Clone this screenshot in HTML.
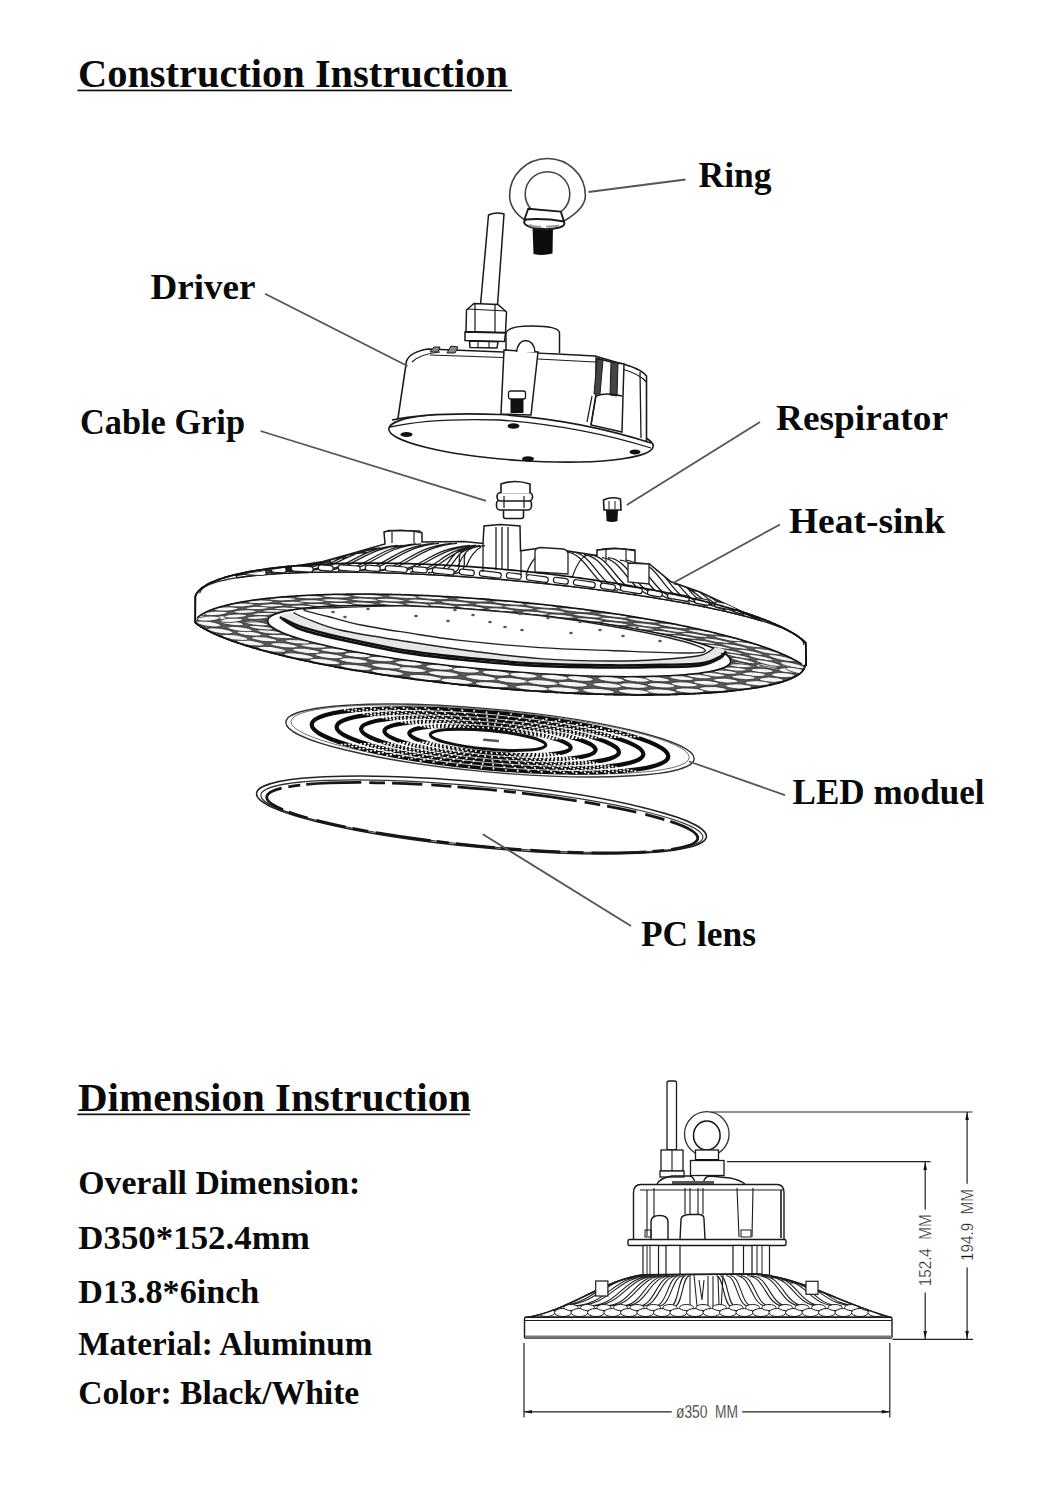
<!DOCTYPE html>
<html><head><meta charset="utf-8"><title>Construction Instruction</title>
<style>html,body{margin:0;padding:0;background:#fff;}svg{display:block;}</style>
</head><body>
<svg width="1048" height="1506" viewBox="0 0 1048 1506">
<rect width="1048" height="1506" fill="#fff"/>
<g font-family='"Liberation Serif", serif' font-weight="bold" fill="#0a0a0a">
<text x="78" y="87" font-size="40" textLength="430" lengthAdjust="spacingAndGlyphs">Construction Instruction</text>
<text x="698.5" y="187.3" font-size="35" textLength="73" lengthAdjust="spacingAndGlyphs">Ring</text>
<text x="150.5" y="298.6" font-size="35" textLength="105" lengthAdjust="spacingAndGlyphs">Driver</text>
<text x="80" y="433.5" font-size="35" textLength="165" lengthAdjust="spacingAndGlyphs">Cable Grip</text>
<text x="776" y="430.1" font-size="35" textLength="172" lengthAdjust="spacingAndGlyphs">Respirator</text>
<text x="789" y="533.1" font-size="35" textLength="156" lengthAdjust="spacingAndGlyphs">Heat-sink</text>
<text x="792.5" y="804.2" font-size="35" textLength="192" lengthAdjust="spacingAndGlyphs">LED moduel</text>
<text x="641" y="945.6" font-size="35" textLength="115" lengthAdjust="spacingAndGlyphs">PC lens</text>
<text x="78" y="1111" font-size="40" textLength="393" lengthAdjust="spacingAndGlyphs">Dimension Instruction</text>
<text x="78.3" y="1193.5" font-size="33" textLength="282" lengthAdjust="spacingAndGlyphs">Overall Dimension:</text>
<text x="78.3" y="1249" font-size="33" textLength="231.5" lengthAdjust="spacingAndGlyphs">D350*152.4mm</text>
<text x="78.3" y="1302.7" font-size="33" textLength="181" lengthAdjust="spacingAndGlyphs">D13.8*6inch</text>
<text x="78.3" y="1355" font-size="33" textLength="294" lengthAdjust="spacingAndGlyphs">Material: Aluminum</text>
<text x="78.3" y="1404" font-size="33" textLength="281" lengthAdjust="spacingAndGlyphs">Color: Black/White</text>
</g>
<rect x="77.5" y="89.6" width="434.5" height="1.7" fill="#111"/>
<rect x="77.3" y="1113.5" width="392.5" height="1.7" fill="#111"/>
<path d="M524,219.5 C512,211 509.6,203 509.6,195.5 A37.9,37 0 0 1 585.4,195.5 C585.4,204 578,213 564,221" stroke="#444" stroke-width="1.6" fill="none"/>
<circle cx="547.5" cy="194" r="22.3" stroke="#444" stroke-width="1.6" fill="none"/>
<path d="M532.5,226 L553,226 L552.5,253.5 Q543,256 533.5,254 Z" fill="#0c0c0c"/>
<ellipse cx="544.3" cy="222.8" rx="20.2" ry="6.3" transform="rotate(2 544.3 222.8)" fill="#fff" stroke="#1a1a1a" stroke-width="2"/>
<path d="M529,225 Q535,227.5 541,226.5 M546,226.5 Q553,227 559,225.5" stroke="#999" stroke-width="2.2" fill="none"/>
<path d="M528.2,208.7 L560.8,211.6 L564,221.5 Q545,218 524.4,219.5 Z" fill="#fff" stroke="#1a1a1a" stroke-width="1.9" stroke-linejoin="round"/>
<path d="M195.32,596.39 L195.53,595.8 L195.77,595.22 L196.04,594.64 L196.35,594.06 L196.7,593.49 L197.07,592.92 L197.48,592.35 L197.93,591.79 L198.4,591.23 L198.92,590.67 L199.46,590.12 L200.04,589.58 L200.65,589.04 L201.29,588.5 L201.97,587.96 L202.68,587.43 L203.42,586.91 L204.2,586.39 L205.01,585.87 L205.85,585.36 L206.72,584.85 L207.63,584.35 L208.57,583.85 L209.54,583.36 L210.54,582.87 L211.58,582.39 L212.65,581.91 L213.74,581.44 L214.88,580.97 L216.04,580.51 L217.23,580.05 L218.46,579.6 L219.72,579.15 L221,578.71 L222.32,578.27 L223.67,577.84 L225.05,577.41 L226.47,576.99 L227.91,576.58 L229.38,576.17 L230.88,575.77 L232.41,575.37 L233.97,574.98 L235.57,574.59 L237.19,574.21 L238.84,573.83 L240.51,573.46 L242.22,573.1 L243.96,572.74 L245.72,572.39 L247.51,572.05 L249.34,571.71 L251.18,571.37 L253.06,571.05 L254.96,570.73 L256.9,570.41 L258.85,570.1 L260.84,569.8 L262.85,569.51 L264.89,569.22 L266.95,568.93 L269.04,568.66 L271.16,568.39 L273.3,568.12 L275.47,567.87 L277.66,567.62 L279.87,567.37 L282.11,567.14 L284.38,566.9 L286.67,566.68 L288.98,566.46 L291.32,566.25 L293.68,566.05 L296.06,565.85 L298.46,565.66 L300.89,565.48 L303.34,565.3 L305.81,565.13 L308.31,564.96 L310.82,564.81 L313.36,564.66 L315.91,564.52 L318.49,564.38 L321.09,564.25 L323.71,564.13 L326.34,564.01 L329,563.9 L331.68,563.8 L334.37,563.71 L337.08,563.62 L339.82,563.54 L342.57,563.47 L345.33,563.4 L348.12,563.34 L350.92,563.29 L353.74,563.24 L356.57,563.21 L359.42,563.18 L362.29,563.15 L365.17,563.13 L368.07,563.12 L370.98,563.12 L373.91,563.13 L376.85,563.14 L379.8,563.15 L382.77,563.18 L385.75,563.21 L388.74,563.25 L391.75,563.3 L394.77,563.35 L397.8,563.41 L400.84,563.48 L403.9,563.55 L406.96,563.63 L410.04,563.72 L413.12,563.82 L416.22,563.92 L419.32,564.03 L422.44,564.15 L425.56,564.27 L428.69,564.4 L431.83,564.54 L434.98,564.68 L438.13,564.83 L441.3,564.99 L444.47,565.15 L447.64,565.32 L450.82,565.5 L454.01,565.69 L457.2,565.88 L460.4,566.08 L463.6,566.28 L466.81,566.49 L470.02,566.71 L473.24,566.94 L476.45,567.17 L479.68,567.41 L482.9,567.65 L486.13,567.91 L489.35,568.16 L492.58,568.43 L495.81,568.7 L499.04,568.98 L502.28,569.26 L505.51,569.55 L508.74,569.85 L511.97,570.15 L515.2,570.46 L518.43,570.77 L521.66,571.1 L524.88,571.42 L528.1,571.76 L531.32,572.1 L534.54,572.44 L537.75,572.8 L540.96,573.15 L544.17,573.52 L547.37,573.89 L550.57,574.26 L553.76,574.65 L556.95,575.03 L560.12,575.43 L563.3,575.83 L566.47,576.23 L569.63,576.64 L572.78,577.06 L575.92,577.48 L579.06,577.9 L582.19,578.34 L585.31,578.77 L588.42,579.22 L591.52,579.67 L594.62,580.12 L597.7,580.58 L600.77,581.04 L603.83,581.51 L606.88,581.98 L609.92,582.46 L612.95,582.95 L615.96,583.43 L618.97,583.93 L621.96,584.43 L624.94,584.93 L627.9,585.44 L630.85,585.95 L633.79,586.47 L636.71,586.99 L639.62,587.51 L642.51,588.04 L645.39,588.58 L648.25,589.12 L651.09,589.66 L653.92,590.21 L656.74,590.76 L659.53,591.31 L662.31,591.87 L665.07,592.43 L667.82,593 L670.54,593.57 L673.25,594.14 L675.94,594.72 L678.61,595.3 L681.26,595.89 L683.89,596.48 L686.5,597.07 L689.1,597.66 L691.67,598.26 L694.22,598.86 L696.75,599.47 L699.25,600.08 L701.74,600.69 L704.21,601.3 L706.65,601.92 L709.07,602.54 L711.47,603.16 L713.84,603.78 L716.2,604.41 L718.53,605.04 L720.83,605.67 L723.11,606.31 L725.37,606.95 L727.6,607.58 L729.81,608.23 L732,608.87 L734.16,609.52 L736.29,610.16 L738.4,610.81 L740.48,611.46 L742.53,612.12 L744.56,612.77 L746.57,613.43 L748.54,614.08 L750.49,614.74 L752.42,615.4 L754.31,616.07 L756.18,616.73 L758.02,617.39 L759.83,618.06 L761.62,618.73 L763.37,619.39 L765.1,620.06 L766.8,620.73 L768.47,621.4 L770.11,622.07 L771.72,622.74 L773.3,623.41 L774.86,624.09 L776.38,624.76 L777.87,625.43 L779.33,626.1 L780.77,626.78 L782.17,627.45 L783.54,628.12 L784.88,628.8 L786.19,629.47 L787.47,630.14 L788.72,630.81 L789.93,631.49 L791.12,632.16 L792.27,632.83 L793.39,633.5 L794.48,634.17 L795.54,634.84 L796.57,635.51 L797.56,636.17 L798.52,636.84 L799.45,637.51 L800.35,638.17 L801.21,638.83 L802.04,639.49 L802.84,640.15 L803.61,640.81 L804.34,641.47 L805.04,642.13 L805.71,642.78 L806.2,665 L804.87,665.62 L804.81,666.14 L804.71,666.65 L804.58,667.17 L804.42,667.67 L804.22,668.18 L803.99,668.68 L803.72,669.18 L803.42,669.68 L803.09,670.17 L802.72,670.66 L802.32,671.14 L801.89,671.62 L801.42,672.1 L800.92,672.57 L800.39,673.04 L799.82,673.51 L799.22,673.97 L798.58,674.43 L797.92,674.88 L797.22,675.33 L796.48,675.78 L795.72,676.22 L794.92,676.66 L794.09,677.09 L793.22,677.52 L792.32,677.95 L791.39,678.37 L790.43,678.78 L789.44,679.2 L788.41,679.6 L787.36,680.01 L786.27,680.4 L785.14,680.8 L783.99,681.19 L782.81,681.57 L781.59,681.95 L780.34,682.32 L779.06,682.69 L777.75,683.06 L776.41,683.42 L775.04,683.77 L773.64,684.12 L772.21,684.47 L770.75,684.81 L769.25,685.14 L767.73,685.47 L766.18,685.79 L764.6,686.11 L762.99,686.43 L761.35,686.74 L759.68,687.04 L757.98,687.34 L756.25,687.63 L754.5,687.92 L752.71,688.2 L750.9,688.47 L749.06,688.74 L747.19,689.01 L745.3,689.27 L743.38,689.52 L741.43,689.77 L739.45,690.01 L737.45,690.25 L735.42,690.48 L733.37,690.7 L731.28,690.92 L729.18,691.14 L727.05,691.35 L724.89,691.55 L722.7,691.74 L720.5,691.93 L718.26,692.12 L716.01,692.3 L713.73,692.47 L711.42,692.64 L709.1,692.8 L706.74,692.95 L704.37,693.1 L701.97,693.24 L699.55,693.38 L697.11,693.51 L694.65,693.63 L692.16,693.75 L689.65,693.86 L687.13,693.97 L684.58,694.07 L682.01,694.16 L679.42,694.25 L676.81,694.33 L674.18,694.41 L671.53,694.48 L668.86,694.54 L666.17,694.6 L663.46,694.65 L660.74,694.69 L658,694.73 L655.24,694.76 L652.46,694.79 L649.66,694.8 L646.85,694.82 L644.03,694.83 L641.18,694.83 L638.32,694.82 L635.45,694.81 L632.55,694.79 L629.65,694.77 L626.73,694.74 L623.79,694.7 L620.85,694.66 L617.88,694.61 L614.91,694.55 L611.92,694.49 L608.92,694.42 L605.9,694.35 L602.88,694.27 L599.84,694.19 L596.79,694.09 L593.73,693.99 L590.66,693.89 L587.58,693.78 L584.49,693.66 L581.39,693.54 L578.28,693.41 L575.16,693.28 L572.04,693.14 L568.9,692.99 L565.76,692.84 L562.61,692.68 L559.45,692.51 L556.28,692.34 L553.11,692.16 L549.94,691.98 L546.75,691.79 L543.56,691.6 L540.37,691.4 L537.17,691.19 L533.97,690.98 L530.76,690.76 L527.55,690.54 L524.33,690.31 L521.11,690.07 L517.89,689.83 L514.67,689.59 L511.44,689.33 L508.22,689.08 L504.99,688.81 L501.76,688.54 L498.53,688.27 L495.3,687.99 L492.07,687.7 L488.84,687.41 L485.62,687.12 L482.39,686.81 L479.16,686.51 L475.94,686.19 L472.72,685.88 L469.5,685.55 L466.28,685.23 L463.07,684.89 L459.86,684.55 L456.66,684.21 L453.46,683.86 L450.26,683.51 L447.07,683.15 L443.89,682.79 L440.71,682.42 L437.53,682.05 L434.37,681.67 L431.21,681.28 L428.06,680.9 L424.91,680.5 L421.77,680.11 L418.64,679.71 L415.52,679.3 L412.41,678.89 L409.31,678.47 L406.22,678.05 L403.13,677.63 L400.06,677.2 L397,676.77 L393.95,676.33 L390.91,675.89 L387.88,675.45 L384.86,675 L381.86,674.55 L378.86,674.09 L375.88,673.63 L372.92,673.16 L369.97,672.69 L367.03,672.22 L364.1,671.74 L361.19,671.26 L358.3,670.78 L355.42,670.29 L352.56,669.8 L349.71,669.31 L346.88,668.81 L344.06,668.31 L341.26,667.8 L338.48,667.3 L335.71,666.79 L332.97,666.27 L330.24,665.75 L327.53,665.23 L324.83,664.71 L322.16,664.19 L319.51,663.66 L316.87,663.12 L314.26,662.59 L311.66,662.05 L309.09,661.51 L306.53,660.97 L304,660.43 L301.48,659.88 L298.99,659.33 L296.52,658.78 L294.08,658.22 L291.65,657.67 L289.25,657.11 L286.87,656.55 L284.51,655.98 L282.18,655.42 L279.87,654.85 L277.58,654.28 L275.32,653.71 L273.08,653.14 L270.86,652.57 L268.67,651.99 L266.51,651.42 L264.37,650.84 L262.26,650.26 L260.17,649.68 L258.11,649.1 L256.07,648.51 L254.06,647.93 L252.08,647.34 L250.12,646.76 L248.19,646.17 L246.29,645.58 L244.42,644.99 L242.57,644.4 L240.75,643.81 L238.96,643.22 L237.2,642.63 L235.46,642.03 L233.76,641.44 L232.08,640.85 L230.43,640.25 L228.82,639.66 L227.23,639.07 L225.67,638.47 L224.14,637.88 L222.64,637.28 L221.17,636.69 L219.73,636.1 L218.32,635.5 L216.94,634.91 L215.59,634.32 L214.27,633.73 L212.99,633.13 L211.73,632.54 L210.51,631.95 L209.31,631.36 L208.15,630.77 L207.02,630.18 L205.92,629.59 L204.86,629.01 L203.82,628.42 L202.82,627.84 L201.85,627.25 L200.91,626.67 L200.01,626.09 L199.14,625.51 L198.29,624.93 L197.49,624.35 L196.71,623.78 L195.97,623.2 L195.26,622.63 L195.2,619 Z" fill="#fff" stroke="#111" stroke-width="1.7"/>
<path d="M199.81,593.21 L199.86,592.8 L199.94,592.39 L200.06,591.99 L200.21,591.59 L200.4,591.19 L200.61,590.8 L200.87,590.4 L201.15,590.02 L201.46,589.63 L201.81,589.25 L202.2,588.87 L202.61,588.49 L203.06,588.12 L203.54,587.75 L204.05,587.39 L204.6,587.03 L205.18,586.67 L205.79,586.31 L206.43,585.96 L207.11,585.61 L207.81,585.27 L208.56,584.93 L209.33,584.59 L210.13,584.26 L210.97,583.93 L211.84,583.61 L212.74,583.29 L213.67,582.97 L214.63,582.66 L215.63,582.35 L216.65,582.04 L217.71,581.74 L218.8,581.44 L219.92,581.15 L221.07,580.86 L222.25,580.58 L223.47,580.3 L224.71,580.02 L225.98,579.75 L227.29,579.48 L228.62,579.22 L229.98,578.96 L231.38,578.71 L232.8,578.46 L234.25,578.21 L235.73,577.97 L237.24,577.73 L238.78,577.5 L240.35,577.27 L241.95,577.05 L243.58,576.83 L245.23,576.62 L246.91,576.41 L248.62,576.21 L250.36,576.01 L252.13,575.81 L253.92,575.62 L255.74,575.44 L257.59,575.26 L259.46,575.08 L261.36,574.91 L263.29,574.74 L265.24,574.58 L267.22,574.43 L269.23,574.28 L271.26,574.13 L273.31,573.99 L275.39,573.85 L277.5,573.72 L279.63,573.59 L281.78,573.47 L283.96,573.35 L286.16,573.24 L288.39,573.14 L290.64,573.03 L292.91,572.94 L295.21,572.85 L297.53,572.76 L299.87,572.68 L302.23,572.6 L304.61,572.53 L307.02,572.47 L309.45,572.41 L311.9,572.35 L314.37,572.3 L316.86,572.25 L319.37,572.21 L321.9,572.18 L324.45,572.15 L327.02,572.12 L329.6,572.1 L332.21,572.09 L334.84,572.08 L337.48,572.08 L340.15,572.08 L342.83,572.08 L345.52,572.09 L348.24,572.11 L350.97,572.13 L353.72,572.16 L356.48,572.19 L359.26,572.23 L362.06,572.27 L364.87,572.32 L367.7,572.37 L370.54,572.43 L373.39,572.49 L376.26,572.56 L379.15,572.63 L382.04,572.71 L384.95,572.79 L387.88,572.88 L390.81,572.97 L393.76,573.07 L396.72,573.17 L399.69,573.28 L402.67,573.39 L405.66,573.51 L408.67,573.64 L411.68,573.76 L414.7,573.9 L417.74,574.04 L420.78,574.18 L423.83,574.33 L426.89,574.48 L429.96,574.64 L433.03,574.8 L436.12,574.97 L439.21,575.14 L442.3,575.32 L445.41,575.5 L448.52,575.69 L451.63,575.88 L454.76,576.08 L457.88,576.28 L461.01,576.48 L464.15,576.69 L467.29,576.91 L470.43,577.13 L473.58,577.35 L476.73,577.58 L479.88,577.82 L483.04,578.05 L486.2,578.3 L489.36,578.54 L492.52,578.79 L495.68,579.05 L498.84,579.31 L502,579.58 L505.17,579.84 L508.33,580.12 L511.49,580.39 L514.65,580.68 L517.81,580.96 L520.97,581.25 L524.12,581.55 L527.27,581.85 L530.42,582.15 L533.57,582.45 L536.71,582.77 L539.85,583.08 L542.99,583.4 L546.12,583.72 L549.25,584.05 L552.37,584.38 L555.48,584.71 L558.59,585.05 L561.69,585.39 L564.79,585.74 L567.88,586.08 L570.96,586.44 L574.04,586.79 L577.1,587.15 L580.16,587.52 L583.21,587.88 L586.25,588.25 L589.28,588.63 L592.31,589 L595.32,589.38 L598.32,589.77 L601.31,590.15 L604.29,590.54 L607.26,590.93 L610.22,591.33 L613.17,591.73 L616.1,592.13 L619.02,592.54 L621.93,592.94 L624.82,593.35 L627.71,593.77 L630.57,594.18 L633.43,594.6 L636.27,595.03 L639.09,595.45 L641.9,595.88 L644.69,596.31 L647.47,596.74 L650.24,597.17 L652.98,597.61 L655.71,598.05 L658.42,598.49 L661.12,598.93 L663.8,599.38 L666.46,599.83 L669.1,600.28 L671.72,600.73 L674.33,601.18 L676.91,601.64 L679.48,602.1 L682.03,602.56 L684.56,603.02 L687.06,603.48 L689.55,603.95 L692.02,604.42 L694.47,604.89 L696.89,605.36 L699.29,605.83 L701.68,606.3 L704.04,606.77 L706.37,607.25 L708.69,607.73 L710.98,608.21 L713.25,608.69 L715.5,609.17 L717.72,609.65 L719.92,610.13 L722.1,610.62 L724.25,611.1 L726.37,611.59 L728.48,612.07 L730.55,612.56 L732.61,613.05 L734.63,613.54 L736.63,614.03 L738.61,614.52 L740.56,615.01 L742.48,615.5 L744.38,615.99 L746.25,616.48 L748.1,616.97 L749.91,617.46 L751.7,617.96 L753.46,618.45 L755.2,618.94 L756.9,619.43 L758.58,619.93 L760.23,620.42 L761.86,620.91 L763.45,621.4 L765.02,621.89 L766.55,622.38 L768.06,622.88 L769.54,623.37 L770.99,623.86 L772.4,624.35 L773.79,624.84 L775.15,625.32 L776.48,625.81 L777.78,626.3 L779.05,626.78 L780.29,627.27 L781.5,627.75 L782.68,628.24 L783.82,628.72 L784.94,629.2 L786.02,629.68 L787.08,630.16 L788.1,630.64 L789.09,631.12 L790.05,631.59 L790.98,632.07 L791.88,632.54 L792.74,633.01 L793.57,633.48 L794.37,633.95 L795.14,634.41 L795.88,634.88 L796.58,635.34 L797.25,635.8 L797.89,636.26 L798.5,636.72 L799.07,637.18 L799.62,637.63 L800.12,638.08 L800.6,638.53 L801.04,638.98 L801.45,639.42 L801.83,639.87 L802.18,640.31 L802.49,640.74 L802.77,641.18 L803.01,641.61 L803.23,642.05 L803.41,642.47 L803.55,642.9 L803.67,643.32 L803.75,643.74 L803.8,644.16 L803.81,644.58 L803.79,644.99" fill="none" stroke="#222" stroke-width="1.3"/>
<path d="M236,575.5 L280,568.5 L323,561.5 L350,554 L385,544 L384,532 L389,530.5 L419,531 L422,533 L422,542 L464,541.5 L483,543.5 L484,526 L500,524.5 L520,526 L520.5,550.8 L537,548.4 L568,551 L597,555.5 L597,550 L616,548.5 L635,550 L635,562.7 L649.4,564 L671,581.8 L700,592 L730,606 L762,621 L761.86,620.91 L760.23,620.42 L758.58,619.93 L756.9,619.43 L755.2,618.94 L753.46,618.45 L751.7,617.96 L749.91,617.46 L748.1,616.97 L746.25,616.48 L744.38,615.99 L742.48,615.5 L740.56,615.01 L738.61,614.52 L736.63,614.03 L734.63,613.54 L732.61,613.05 L730.55,612.56 L728.48,612.07 L726.37,611.59 L724.25,611.1 L722.1,610.62 L719.92,610.13 L717.72,609.65 L715.5,609.17 L713.25,608.69 L710.98,608.21 L708.69,607.73 L706.37,607.25 L704.04,606.77 L701.68,606.3 L699.29,605.83 L696.89,605.36 L694.47,604.89 L692.02,604.42 L689.55,603.95 L687.06,603.48 L684.56,603.02 L682.03,602.56 L679.48,602.1 L676.91,601.64 L674.33,601.18 L671.72,600.73 L669.1,600.28 L666.46,599.83 L663.8,599.38 L661.12,598.93 L658.42,598.49 L655.71,598.05 L652.98,597.61 L650.24,597.17 L647.47,596.74 L644.69,596.31 L641.9,595.88 L639.09,595.45 L636.27,595.03 L633.43,594.6 L630.57,594.18 L627.71,593.77 L624.82,593.35 L621.93,592.94 L619.02,592.54 L616.1,592.13 L613.17,591.73 L610.22,591.33 L607.26,590.93 L604.29,590.54 L601.31,590.15 L598.32,589.77 L595.32,589.38 L592.31,589 L589.28,588.63 L586.25,588.25 L583.21,587.88 L580.16,587.52 L577.1,587.15 L574.04,586.79 L570.96,586.44 L567.88,586.08 L564.79,585.74 L561.69,585.39 L558.59,585.05 L555.48,584.71 L552.37,584.38 L549.25,584.05 L546.12,583.72 L542.99,583.4 L539.85,583.08 L536.71,582.77 L533.57,582.45 L530.42,582.15 L527.27,581.85 L524.12,581.55 L520.97,581.25 L517.81,580.96 L514.65,580.68 L511.49,580.39 L508.33,580.12 L505.17,579.84 L502,579.58 L498.84,579.31 L495.68,579.05 L492.52,578.79 L489.36,578.54 L486.2,578.3 L483.04,578.05 L479.88,577.82 L476.73,577.58 L473.58,577.35 L470.43,577.13 L467.29,576.91 L464.15,576.69 L461.01,576.48 L457.88,576.28 L454.76,576.08 L451.63,575.88 L448.52,575.69 L445.41,575.5 L442.3,575.32 L439.21,575.14 L436.12,574.97 L433.03,574.8 L429.96,574.64 L426.89,574.48 L423.83,574.33 L420.78,574.18 L417.74,574.04 L414.7,573.9 L411.68,573.76 L408.67,573.64 L405.66,573.51 L402.67,573.39 L399.69,573.28 L396.72,573.17 L393.76,573.07 L390.81,572.97 L387.88,572.88 L384.95,572.79 L382.04,572.71 L379.15,572.63 L376.26,572.56 L373.39,572.49 L370.54,572.43 L367.7,572.37 L364.87,572.32 L362.06,572.27 L359.26,572.23 L356.48,572.19 L353.72,572.16 L350.97,572.13 L348.24,572.11 L345.52,572.09 L342.83,572.08 L340.15,572.08 L337.48,572.08 L334.84,572.08 L332.21,572.09 L329.6,572.1 L327.02,572.12 L324.45,572.15 L321.9,572.18 L319.37,572.21 L316.86,572.25 L314.37,572.3 L311.9,572.35 L309.45,572.41 L307.02,572.47 L304.61,572.53 L302.23,572.6 L299.87,572.68 L297.53,572.76 L295.21,572.85 L292.91,572.94 L290.64,573.03 L288.39,573.14 L286.16,573.24 L283.96,573.35 L281.78,573.47 L279.63,573.59 L277.5,573.72 L275.39,573.85 L273.31,573.99 L271.26,574.13 L269.23,574.28 L267.22,574.43 L265.24,574.58 L263.29,574.74 L261.36,574.91 L259.46,575.08 L257.59,575.26 L255.74,575.44 L253.92,575.62 L252.13,575.81 L250.36,576.01 L248.62,576.21 L246.91,576.41 L245.23,576.62 L243.58,576.83 L241.95,577.05 L240.35,577.27 L238.78,577.5 L237.24,577.73 Z" fill="#fff" stroke="#1a1a1a" stroke-width="1.5"/>
<clipPath id="finclip"><path d="M236,575.5 L280,568.5 L323,561.5 L350,554 L385,544 L384,532 L389,530.5 L419,531 L422,533 L422,542 L464,541.5 L483,543.5 L484,526 L500,524.5 L520,526 L520.5,550.8 L537,548.4 L568,551 L597,555.5 L597,550 L616,548.5 L635,550 L635,562.7 L649.4,564 L671,581.8 L700,592 L730,606 L762,621 L761.86,620.91 L760.23,620.42 L758.58,619.93 L756.9,619.43 L755.2,618.94 L753.46,618.45 L751.7,617.96 L749.91,617.46 L748.1,616.97 L746.25,616.48 L744.38,615.99 L742.48,615.5 L740.56,615.01 L738.61,614.52 L736.63,614.03 L734.63,613.54 L732.61,613.05 L730.55,612.56 L728.48,612.07 L726.37,611.59 L724.25,611.1 L722.1,610.62 L719.92,610.13 L717.72,609.65 L715.5,609.17 L713.25,608.69 L710.98,608.21 L708.69,607.73 L706.37,607.25 L704.04,606.77 L701.68,606.3 L699.29,605.83 L696.89,605.36 L694.47,604.89 L692.02,604.42 L689.55,603.95 L687.06,603.48 L684.56,603.02 L682.03,602.56 L679.48,602.1 L676.91,601.64 L674.33,601.18 L671.72,600.73 L669.1,600.28 L666.46,599.83 L663.8,599.38 L661.12,598.93 L658.42,598.49 L655.71,598.05 L652.98,597.61 L650.24,597.17 L647.47,596.74 L644.69,596.31 L641.9,595.88 L639.09,595.45 L636.27,595.03 L633.43,594.6 L630.57,594.18 L627.71,593.77 L624.82,593.35 L621.93,592.94 L619.02,592.54 L616.1,592.13 L613.17,591.73 L610.22,591.33 L607.26,590.93 L604.29,590.54 L601.31,590.15 L598.32,589.77 L595.32,589.38 L592.31,589 L589.28,588.63 L586.25,588.25 L583.21,587.88 L580.16,587.52 L577.1,587.15 L574.04,586.79 L570.96,586.44 L567.88,586.08 L564.79,585.74 L561.69,585.39 L558.59,585.05 L555.48,584.71 L552.37,584.38 L549.25,584.05 L546.12,583.72 L542.99,583.4 L539.85,583.08 L536.71,582.77 L533.57,582.45 L530.42,582.15 L527.27,581.85 L524.12,581.55 L520.97,581.25 L517.81,580.96 L514.65,580.68 L511.49,580.39 L508.33,580.12 L505.17,579.84 L502,579.58 L498.84,579.31 L495.68,579.05 L492.52,578.79 L489.36,578.54 L486.2,578.3 L483.04,578.05 L479.88,577.82 L476.73,577.58 L473.58,577.35 L470.43,577.13 L467.29,576.91 L464.15,576.69 L461.01,576.48 L457.88,576.28 L454.76,576.08 L451.63,575.88 L448.52,575.69 L445.41,575.5 L442.3,575.32 L439.21,575.14 L436.12,574.97 L433.03,574.8 L429.96,574.64 L426.89,574.48 L423.83,574.33 L420.78,574.18 L417.74,574.04 L414.7,573.9 L411.68,573.76 L408.67,573.64 L405.66,573.51 L402.67,573.39 L399.69,573.28 L396.72,573.17 L393.76,573.07 L390.81,572.97 L387.88,572.88 L384.95,572.79 L382.04,572.71 L379.15,572.63 L376.26,572.56 L373.39,572.49 L370.54,572.43 L367.7,572.37 L364.87,572.32 L362.06,572.27 L359.26,572.23 L356.48,572.19 L353.72,572.16 L350.97,572.13 L348.24,572.11 L345.52,572.09 L342.83,572.08 L340.15,572.08 L337.48,572.08 L334.84,572.08 L332.21,572.09 L329.6,572.1 L327.02,572.12 L324.45,572.15 L321.9,572.18 L319.37,572.21 L316.86,572.25 L314.37,572.3 L311.9,572.35 L309.45,572.41 L307.02,572.47 L304.61,572.53 L302.23,572.6 L299.87,572.68 L297.53,572.76 L295.21,572.85 L292.91,572.94 L290.64,573.03 L288.39,573.14 L286.16,573.24 L283.96,573.35 L281.78,573.47 L279.63,573.59 L277.5,573.72 L275.39,573.85 L273.31,573.99 L271.26,574.13 L269.23,574.28 L267.22,574.43 L265.24,574.58 L263.29,574.74 L261.36,574.91 L259.46,575.08 L257.59,575.26 L255.74,575.44 L253.92,575.62 L252.13,575.81 L250.36,576.01 L248.62,576.21 L246.91,576.41 L245.23,576.62 L243.58,576.83 L241.95,577.05 L240.35,577.27 L238.78,577.5 L237.24,577.73 Z"/></clipPath>
<g clip-path="url(#finclip)"><path d="M248,574.71 C278,572.71 286,564.73 326,561.73 M253,574.71 C283,572.71 291,564.73 331,561.73 M266,573.08 C296,571.08 304,560.08 344,557.08 M271,573.08 C301,571.08 309,560.08 349,557.08 M284,571.85 C314,569.85 322,555.44 362,552.44 M289,571.85 C319,569.85 327,555.44 367,552.44 M302,571.1 C332,569.1 340,550.79 380,547.79 M307,571.1 C337,569.1 345,550.79 385,547.79 M320,570.71 C350,568.71 358,548.38 398,545.38 M325,570.71 C355,568.71 363,548.38 403,545.38 M338,570.58 C368,568.58 376,546.82 416,543.82 M343,570.58 C373,568.58 381,546.82 421,543.82 M356,570.69 C386,568.69 394,546.3 434,543.3 M361,570.69 C391,568.69 399,546.3 439,543.3 M374,570.99 C404,568.99 412,546.3 452,543.3 M379,570.99 C409,568.99 417,546.3 457,543.3 M392,571.47 C422,569.47 430,548.36 470,545.36 M397,571.47 C427,569.47 435,548.36 475,545.36 M410,572.14 C440,570.14 440,548.56 480,545.56 M415,572.14 C445,570.14 445,548.56 485,545.56 M428,572.98 C458,570.98 440,548.56 480,545.56 M433,572.98 C463,570.98 445,548.56 485,545.56 M446,574 C476,572 440,548.56 480,545.56 M451,574 C481,572 445,548.56 485,545.56 M566,551.83 C588,553.83 592,586.04 618,591.04 M572,551.83 C594,553.83 598,586.04 624,591.04 M584,554.76 C606,556.76 610,588.53 636,593.53 M590,554.76 C612,556.76 616,588.53 642,593.53 M602,557.66 C624,559.66 628,591.11 654,596.11 M608,557.66 C630,559.66 634,591.11 660,596.11 M620,560.03 C642,562.03 646,594.23 672,599.23 M626,560.03 C648,562.03 652,594.23 678,599.23 M638,562.62 C660,564.62 664,597.45 690,602.45 M644,562.62 C666,564.62 670,597.45 696,602.45 M656,570.44 C678,572.44 682,601.23 708,606.23 M662,570.44 C684,572.44 688,601.23 714,606.23 M674,583.86 C696,585.86 700,605.09 726,610.09 M680,583.86 C702,585.86 706,605.09 732,610.09 M692,590.19 C714,592.19 718,609.49 744,614.49 M698,590.19 C720,592.19 724,609.49 750,614.49 M710,597.67 C732,599.67 736,614.41 762,619.41 M716,597.67 C738,599.67 742,614.41 768,619.41 M728,606.07 C750,608.07 754,620.77 780,625.77 M734,606.07 C756,608.07 760,620.77 786,625.77 M458,566 C462,556 468,548 476,545 M466,567 C470,557 475,550 481,547 M526,575 C530,562 536,556 541,552 M572,578 C576,566 580,558 586,556" stroke="#1e1e1e" stroke-width="1.3" fill="none"/>
<g fill="#fff" stroke="#1e1e1e" stroke-width="1.2"><rect x="244" y="569.33" width="22" height="5.5" rx="2.7" transform="rotate(2.45 244 575.33)"/><rect x="271" y="566.63" width="15" height="5.5" rx="2.7" transform="rotate(2.94 271 572.63)"/><rect x="291" y="565.53" width="22" height="5.5" rx="2.7" transform="rotate(3.3 291 571.53)"/><rect x="318" y="564.75" width="15" height="5.5" rx="2.7" transform="rotate(3.78 318 570.75)"/><rect x="338" y="564.58" width="22" height="5.5" rx="2.7" transform="rotate(4.14 338 570.58)"/><rect x="365" y="564.82" width="15" height="5.5" rx="2.7" transform="rotate(4.63 365 570.82)"/><rect x="385" y="565.29" width="22" height="5.5" rx="2.7" transform="rotate(4.99 385 571.29)"/><rect x="412" y="566.26" width="15" height="5.5" rx="2.7" transform="rotate(5.48 412 572.26)"/><rect x="432" y="567.3" width="22" height="5.5" rx="2.7" transform="rotate(5.84 432 573.3)"/><rect x="459" y="568.78" width="15" height="5.5" rx="2.7" transform="rotate(6.32 459 574.78)"/><rect x="479" y="570.32" width="22" height="5.5" rx="2.7" transform="rotate(6.68 479 576.32)"/><rect x="506" y="572.34" width="15" height="5.5" rx="2.7" transform="rotate(7.17 506 578.34)"/><rect x="526" y="574.35" width="22" height="5.5" rx="2.7" transform="rotate(7.53 526 580.35)"/><rect x="553" y="576.88" width="15" height="5.5" rx="2.7" transform="rotate(8.01 553 582.88)"/><rect x="573" y="579.29" width="22" height="5.5" rx="2.7" transform="rotate(8.37 573 585.29)"/><rect x="600" y="582.65" width="15" height="5.5" rx="2.7" transform="rotate(8.86 600 588.65)"/><rect x="620" y="585.04" width="22" height="5.5" rx="2.7" transform="rotate(9.22 620 591.04)"/><rect x="647" y="589.24" width="15" height="5.5" rx="2.7" transform="rotate(9.71 647 595.24)"/><rect x="667" y="592.33" width="22" height="5.5" rx="2.7" transform="rotate(10.07 667 598.33)"/><rect x="694" y="597.39" width="15" height="5.5" rx="2.7" transform="rotate(10.55 694 603.39)"/><rect x="714" y="601.19" width="22" height="5.5" rx="2.7" transform="rotate(10.91 714 607.19)"/><rect x="741" y="607.51" width="15" height="5.5" rx="2.7" transform="rotate(11.4 741 613.51)"/></g></g>
<path d="M483,543 L483,572 M521,550 L521,575 M496,527 L496,570 M508,527 L508,570 M502,527 L502,570" stroke="#222" stroke-width="1.3" fill="none"/>
<path d="M384,532 Q403,528 422,533 M597,550 Q616,546 635,551 M392,532 L392,543 M414,532 L414,543 M606,550 L606,562 M626,550 L626,562" stroke="#222" stroke-width="1.2" fill="none"/>
<path d="M628,563 L649,564 L649,584 L628,582 Z M535,551 Q536,547.5 541,547.5 L563,549 Q568,550 568,554 L568,574 L535,572 Z" fill="#fff" stroke="#222" stroke-width="1.3"/>
<clipPath id="hcclip"><path d="M197.02,618.02 L197.53,617.52 L198.07,617.04 L198.64,616.55 L199.24,616.07 L199.88,615.6 L200.55,615.12 L201.26,614.65 L202,614.19 L202.77,613.73 L203.57,613.28 L204.41,612.82 L205.28,612.38 L206.18,611.93 L207.12,611.5 L208.09,611.06 L209.09,610.63 L210.12,610.21 L211.19,609.79 L212.28,609.37 L213.41,608.96 L214.57,608.56 L215.76,608.15 L216.99,607.76 L218.24,607.37 L219.53,606.98 L220.85,606.6 L222.2,606.22 L223.58,605.85 L224.99,605.49 L226.43,605.12 L227.9,604.77 L229.4,604.42 L230.93,604.07 L232.49,603.73 L234.08,603.4 L235.7,603.07 L237.35,602.74 L239.03,602.43 L240.74,602.11 L242.48,601.81 L244.24,601.5 L246.04,601.21 L247.86,600.92 L249.71,600.63 L251.59,600.35 L253.49,600.08 L255.43,599.81 L257.39,599.55 L259.37,599.29 L261.39,599.04 L263.43,598.8 L265.5,598.56 L267.59,598.32 L269.71,598.1 L271.85,597.88 L274.02,597.66 L276.22,597.45 L278.44,597.25 L280.68,597.05 L282.95,596.86 L285.25,596.68 L287.56,596.5 L289.9,596.32 L292.27,596.16 L294.66,596 L297.07,595.84 L299.5,595.69 L301.96,595.55 L304.43,595.42 L306.93,595.29 L309.45,595.17 L312,595.05 L314.56,594.94 L317.14,594.83 L319.75,594.74 L322.37,594.64 L325.02,594.56 L327.68,594.48 L330.36,594.41 L333.07,594.34 L335.79,594.28 L338.53,594.23 L341.28,594.18 L344.06,594.14 L346.85,594.11 L349.66,594.08 L352.49,594.06 L355.33,594.04 L358.19,594.03 L361.07,594.03 L363.96,594.04 L366.86,594.05 L369.79,594.06 L372.72,594.09 L375.67,594.12 L378.64,594.15 L381.62,594.2 L384.61,594.24 L387.61,594.3 L390.63,594.36 L393.66,594.43 L396.7,594.5 L399.75,594.58 L402.82,594.67 L405.89,594.77 L408.98,594.87 L412.08,594.97 L415.18,595.08 L418.3,595.2 L421.43,595.33 L424.56,595.46 L427.71,595.6 L430.86,595.74 L434.02,595.89 L437.18,596.05 L440.36,596.21 L443.54,596.38 L446.73,596.55 L449.92,596.73 L453.12,596.92 L456.33,597.11 L459.54,597.31 L462.76,597.51 L465.98,597.73 L469.2,597.94 L472.43,598.17 L475.66,598.39 L478.9,598.63 L482.13,598.87 L485.37,599.12 L488.61,599.37 L491.86,599.63 L495.1,599.89 L498.35,600.16 L501.59,600.44 L504.84,600.72 L508.09,601 L511.33,601.3 L514.58,601.59 L517.82,601.9 L521.06,602.21 L524.3,602.52 L527.54,602.84 L530.78,603.17 L534.01,603.5 L537.24,603.84 L540.46,604.18 L543.68,604.52 L546.9,604.88 L550.11,605.23 L553.32,605.6 L556.52,605.96 L559.72,606.34 L562.91,606.72 L566.09,607.1 L569.26,607.49 L572.43,607.88 L575.59,608.28 L578.75,608.68 L581.89,609.09 L585.03,609.5 L588.16,609.92 L591.27,610.34 L594.38,610.76 L597.48,611.19 L600.57,611.63 L603.65,612.07 L606.71,612.51 L609.77,612.96 L612.81,613.41 L615.85,613.87 L618.86,614.33 L621.87,614.8 L624.87,615.27 L627.85,615.74 L630.81,616.22 L633.77,616.7 L636.7,617.19 L639.63,617.67 L642.54,618.17 L645.43,618.66 L648.31,619.17 L651.17,619.67 L654.02,620.18 L656.85,620.69 L659.66,621.2 L662.46,621.72 L665.23,622.24 L668,622.77 L670.74,623.3 L673.46,623.83 L676.17,624.36 L678.85,624.9 L681.52,625.44 L684.17,625.98 L686.8,626.53 L689.41,627.08 L691.99,627.63 L694.56,628.19 L697.11,628.74 L699.63,629.3 L702.13,629.87 L704.62,630.43 L707.07,631 L709.51,631.57 L711.93,632.14 L714.32,632.72 L716.69,633.29 L719.03,633.87 L721.35,634.45 L723.65,635.03 L725.92,635.62 L728.17,636.21 L730.4,636.79 L732.6,637.38 L734.77,637.97 L736.92,638.57 L739.04,639.16 L741.14,639.76 L743.21,640.36 L745.26,640.95 L747.28,641.55 L749.27,642.16 L751.23,642.76 L753.17,643.36 L755.08,643.97 L756.97,644.57 L758.82,645.18 L760.65,645.78 L762.45,646.39 L764.22,647 L765.96,647.61 L767.67,648.22 L769.36,648.83 L771.01,649.44 L772.64,650.05 L774.23,650.66 L775.8,651.27 L777.34,651.88 L778.84,652.49 L780.32,653.1 L781.77,653.72 L783.18,654.33 L784.57,654.94 L785.92,655.55 L787.24,656.16 L788.54,656.77 L789.8,657.38 L791.03,657.99 L792.22,658.59 L793.39,659.2 L794.52,659.81 L795.63,660.41 L796.7,661.02 L797.73,661.62 L798.74,662.23 L799.71,662.83 L800.66,663.43 L801.56,664.03 L804.87,665.62 L804.81,666.14 L804.71,666.65 L804.58,667.17 L804.42,667.67 L804.22,668.18 L803.99,668.68 L803.72,669.18 L803.42,669.68 L803.09,670.17 L802.72,670.66 L802.32,671.14 L801.89,671.62 L801.42,672.1 L800.92,672.57 L800.39,673.04 L799.82,673.51 L799.22,673.97 L798.58,674.43 L797.92,674.88 L797.22,675.33 L796.48,675.78 L795.72,676.22 L794.92,676.66 L794.09,677.09 L793.22,677.52 L792.32,677.95 L791.39,678.37 L790.43,678.78 L789.44,679.2 L788.41,679.6 L787.36,680.01 L786.27,680.4 L785.14,680.8 L783.99,681.19 L782.81,681.57 L781.59,681.95 L780.34,682.32 L779.06,682.69 L777.75,683.06 L776.41,683.42 L775.04,683.77 L773.64,684.12 L772.21,684.47 L770.75,684.81 L769.25,685.14 L767.73,685.47 L766.18,685.79 L764.6,686.11 L762.99,686.43 L761.35,686.74 L759.68,687.04 L757.98,687.34 L756.25,687.63 L754.5,687.92 L752.71,688.2 L750.9,688.47 L749.06,688.74 L747.19,689.01 L745.3,689.27 L743.38,689.52 L741.43,689.77 L739.45,690.01 L737.45,690.25 L735.42,690.48 L733.37,690.7 L731.28,690.92 L729.18,691.14 L727.05,691.35 L724.89,691.55 L722.7,691.74 L720.5,691.93 L718.26,692.12 L716.01,692.3 L713.73,692.47 L711.42,692.64 L709.1,692.8 L706.74,692.95 L704.37,693.1 L701.97,693.24 L699.55,693.38 L697.11,693.51 L694.65,693.63 L692.16,693.75 L689.65,693.86 L687.13,693.97 L684.58,694.07 L682.01,694.16 L679.42,694.25 L676.81,694.33 L674.18,694.41 L671.53,694.48 L668.86,694.54 L666.17,694.6 L663.46,694.65 L660.74,694.69 L658,694.73 L655.24,694.76 L652.46,694.79 L649.66,694.8 L646.85,694.82 L644.03,694.83 L641.18,694.83 L638.32,694.82 L635.45,694.81 L632.55,694.79 L629.65,694.77 L626.73,694.74 L623.79,694.7 L620.85,694.66 L617.88,694.61 L614.91,694.55 L611.92,694.49 L608.92,694.42 L605.9,694.35 L602.88,694.27 L599.84,694.19 L596.79,694.09 L593.73,693.99 L590.66,693.89 L587.58,693.78 L584.49,693.66 L581.39,693.54 L578.28,693.41 L575.16,693.28 L572.04,693.14 L568.9,692.99 L565.76,692.84 L562.61,692.68 L559.45,692.51 L556.28,692.34 L553.11,692.16 L549.94,691.98 L546.75,691.79 L543.56,691.6 L540.37,691.4 L537.17,691.19 L533.97,690.98 L530.76,690.76 L527.55,690.54 L524.33,690.31 L521.11,690.07 L517.89,689.83 L514.67,689.59 L511.44,689.33 L508.22,689.08 L504.99,688.81 L501.76,688.54 L498.53,688.27 L495.3,687.99 L492.07,687.7 L488.84,687.41 L485.62,687.12 L482.39,686.81 L479.16,686.51 L475.94,686.19 L472.72,685.88 L469.5,685.55 L466.28,685.23 L463.07,684.89 L459.86,684.55 L456.66,684.21 L453.46,683.86 L450.26,683.51 L447.07,683.15 L443.89,682.79 L440.71,682.42 L437.53,682.05 L434.37,681.67 L431.21,681.28 L428.06,680.9 L424.91,680.5 L421.77,680.11 L418.64,679.71 L415.52,679.3 L412.41,678.89 L409.31,678.47 L406.22,678.05 L403.13,677.63 L400.06,677.2 L397,676.77 L393.95,676.33 L390.91,675.89 L387.88,675.45 L384.86,675 L381.86,674.55 L378.86,674.09 L375.88,673.63 L372.92,673.16 L369.97,672.69 L367.03,672.22 L364.1,671.74 L361.19,671.26 L358.3,670.78 L355.42,670.29 L352.56,669.8 L349.71,669.31 L346.88,668.81 L344.06,668.31 L341.26,667.8 L338.48,667.3 L335.71,666.79 L332.97,666.27 L330.24,665.75 L327.53,665.23 L324.83,664.71 L322.16,664.19 L319.51,663.66 L316.87,663.12 L314.26,662.59 L311.66,662.05 L309.09,661.51 L306.53,660.97 L304,660.43 L301.48,659.88 L298.99,659.33 L296.52,658.78 L294.08,658.22 L291.65,657.67 L289.25,657.11 L286.87,656.55 L284.51,655.98 L282.18,655.42 L279.87,654.85 L277.58,654.28 L275.32,653.71 L273.08,653.14 L270.86,652.57 L268.67,651.99 L266.51,651.42 L264.37,650.84 L262.26,650.26 L260.17,649.68 L258.11,649.1 L256.07,648.51 L254.06,647.93 L252.08,647.34 L250.12,646.76 L248.19,646.17 L246.29,645.58 L244.42,644.99 L242.57,644.4 L240.75,643.81 L238.96,643.22 L237.2,642.63 L235.46,642.03 L233.76,641.44 L232.08,640.85 L230.43,640.25 L228.82,639.66 L227.23,639.07 L225.67,638.47 L224.14,637.88 L222.64,637.28 L221.17,636.69 L219.73,636.1 L218.32,635.5 L216.94,634.91 L215.59,634.32 L214.27,633.73 L212.99,633.13 L211.73,632.54 L210.51,631.95 L209.31,631.36 L208.15,630.77 L207.02,630.18 L205.92,629.59 L204.86,629.01 L203.82,628.42 L202.82,627.84 L201.85,627.25 L200.91,626.67 L200.01,626.09 L199.14,625.51 L198.29,624.93 L197.49,624.35 L196.71,623.78 L195.97,623.2 L195.26,622.63 Z"/></clipPath>
<path d="M197.02,618.02 L197.53,617.52 L198.07,617.04 L198.64,616.55 L199.24,616.07 L199.88,615.6 L200.55,615.12 L201.26,614.65 L202,614.19 L202.77,613.73 L203.57,613.28 L204.41,612.82 L205.28,612.38 L206.18,611.93 L207.12,611.5 L208.09,611.06 L209.09,610.63 L210.12,610.21 L211.19,609.79 L212.28,609.37 L213.41,608.96 L214.57,608.56 L215.76,608.15 L216.99,607.76 L218.24,607.37 L219.53,606.98 L220.85,606.6 L222.2,606.22 L223.58,605.85 L224.99,605.49 L226.43,605.12 L227.9,604.77 L229.4,604.42 L230.93,604.07 L232.49,603.73 L234.08,603.4 L235.7,603.07 L237.35,602.74 L239.03,602.43 L240.74,602.11 L242.48,601.81 L244.24,601.5 L246.04,601.21 L247.86,600.92 L249.71,600.63 L251.59,600.35 L253.49,600.08 L255.43,599.81 L257.39,599.55 L259.37,599.29 L261.39,599.04 L263.43,598.8 L265.5,598.56 L267.59,598.32 L269.71,598.1 L271.85,597.88 L274.02,597.66 L276.22,597.45 L278.44,597.25 L280.68,597.05 L282.95,596.86 L285.25,596.68 L287.56,596.5 L289.9,596.32 L292.27,596.16 L294.66,596 L297.07,595.84 L299.5,595.69 L301.96,595.55 L304.43,595.42 L306.93,595.29 L309.45,595.17 L312,595.05 L314.56,594.94 L317.14,594.83 L319.75,594.74 L322.37,594.64 L325.02,594.56 L327.68,594.48 L330.36,594.41 L333.07,594.34 L335.79,594.28 L338.53,594.23 L341.28,594.18 L344.06,594.14 L346.85,594.11 L349.66,594.08 L352.49,594.06 L355.33,594.04 L358.19,594.03 L361.07,594.03 L363.96,594.04 L366.86,594.05 L369.79,594.06 L372.72,594.09 L375.67,594.12 L378.64,594.15 L381.62,594.2 L384.61,594.24 L387.61,594.3 L390.63,594.36 L393.66,594.43 L396.7,594.5 L399.75,594.58 L402.82,594.67 L405.89,594.77 L408.98,594.87 L412.08,594.97 L415.18,595.08 L418.3,595.2 L421.43,595.33 L424.56,595.46 L427.71,595.6 L430.86,595.74 L434.02,595.89 L437.18,596.05 L440.36,596.21 L443.54,596.38 L446.73,596.55 L449.92,596.73 L453.12,596.92 L456.33,597.11 L459.54,597.31 L462.76,597.51 L465.98,597.73 L469.2,597.94 L472.43,598.17 L475.66,598.39 L478.9,598.63 L482.13,598.87 L485.37,599.12 L488.61,599.37 L491.86,599.63 L495.1,599.89 L498.35,600.16 L501.59,600.44 L504.84,600.72 L508.09,601 L511.33,601.3 L514.58,601.59 L517.82,601.9 L521.06,602.21 L524.3,602.52 L527.54,602.84 L530.78,603.17 L534.01,603.5 L537.24,603.84 L540.46,604.18 L543.68,604.52 L546.9,604.88 L550.11,605.23 L553.32,605.6 L556.52,605.96 L559.72,606.34 L562.91,606.72 L566.09,607.1 L569.26,607.49 L572.43,607.88 L575.59,608.28 L578.75,608.68 L581.89,609.09 L585.03,609.5 L588.16,609.92 L591.27,610.34 L594.38,610.76 L597.48,611.19 L600.57,611.63 L603.65,612.07 L606.71,612.51 L609.77,612.96 L612.81,613.41 L615.85,613.87 L618.86,614.33 L621.87,614.8 L624.87,615.27 L627.85,615.74 L630.81,616.22 L633.77,616.7 L636.7,617.19 L639.63,617.67 L642.54,618.17 L645.43,618.66 L648.31,619.17 L651.17,619.67 L654.02,620.18 L656.85,620.69 L659.66,621.2 L662.46,621.72 L665.23,622.24 L668,622.77 L670.74,623.3 L673.46,623.83 L676.17,624.36 L678.85,624.9 L681.52,625.44 L684.17,625.98 L686.8,626.53 L689.41,627.08 L691.99,627.63 L694.56,628.19 L697.11,628.74 L699.63,629.3 L702.13,629.87 L704.62,630.43 L707.07,631 L709.51,631.57 L711.93,632.14 L714.32,632.72 L716.69,633.29 L719.03,633.87 L721.35,634.45 L723.65,635.03 L725.92,635.62 L728.17,636.21 L730.4,636.79 L732.6,637.38 L734.77,637.97 L736.92,638.57 L739.04,639.16 L741.14,639.76 L743.21,640.36 L745.26,640.95 L747.28,641.55 L749.27,642.16 L751.23,642.76 L753.17,643.36 L755.08,643.97 L756.97,644.57 L758.82,645.18 L760.65,645.78 L762.45,646.39 L764.22,647 L765.96,647.61 L767.67,648.22 L769.36,648.83 L771.01,649.44 L772.64,650.05 L774.23,650.66 L775.8,651.27 L777.34,651.88 L778.84,652.49 L780.32,653.1 L781.77,653.72 L783.18,654.33 L784.57,654.94 L785.92,655.55 L787.24,656.16 L788.54,656.77 L789.8,657.38 L791.03,657.99 L792.22,658.59 L793.39,659.2 L794.52,659.81 L795.63,660.41 L796.7,661.02 L797.73,661.62 L798.74,662.23 L799.71,662.83 L800.66,663.43 L801.56,664.03 L804.87,665.62 L804.81,666.14 L804.71,666.65 L804.58,667.17 L804.42,667.67 L804.22,668.18 L803.99,668.68 L803.72,669.18 L803.42,669.68 L803.09,670.17 L802.72,670.66 L802.32,671.14 L801.89,671.62 L801.42,672.1 L800.92,672.57 L800.39,673.04 L799.82,673.51 L799.22,673.97 L798.58,674.43 L797.92,674.88 L797.22,675.33 L796.48,675.78 L795.72,676.22 L794.92,676.66 L794.09,677.09 L793.22,677.52 L792.32,677.95 L791.39,678.37 L790.43,678.78 L789.44,679.2 L788.41,679.6 L787.36,680.01 L786.27,680.4 L785.14,680.8 L783.99,681.19 L782.81,681.57 L781.59,681.95 L780.34,682.32 L779.06,682.69 L777.75,683.06 L776.41,683.42 L775.04,683.77 L773.64,684.12 L772.21,684.47 L770.75,684.81 L769.25,685.14 L767.73,685.47 L766.18,685.79 L764.6,686.11 L762.99,686.43 L761.35,686.74 L759.68,687.04 L757.98,687.34 L756.25,687.63 L754.5,687.92 L752.71,688.2 L750.9,688.47 L749.06,688.74 L747.19,689.01 L745.3,689.27 L743.38,689.52 L741.43,689.77 L739.45,690.01 L737.45,690.25 L735.42,690.48 L733.37,690.7 L731.28,690.92 L729.18,691.14 L727.05,691.35 L724.89,691.55 L722.7,691.74 L720.5,691.93 L718.26,692.12 L716.01,692.3 L713.73,692.47 L711.42,692.64 L709.1,692.8 L706.74,692.95 L704.37,693.1 L701.97,693.24 L699.55,693.38 L697.11,693.51 L694.65,693.63 L692.16,693.75 L689.65,693.86 L687.13,693.97 L684.58,694.07 L682.01,694.16 L679.42,694.25 L676.81,694.33 L674.18,694.41 L671.53,694.48 L668.86,694.54 L666.17,694.6 L663.46,694.65 L660.74,694.69 L658,694.73 L655.24,694.76 L652.46,694.79 L649.66,694.8 L646.85,694.82 L644.03,694.83 L641.18,694.83 L638.32,694.82 L635.45,694.81 L632.55,694.79 L629.65,694.77 L626.73,694.74 L623.79,694.7 L620.85,694.66 L617.88,694.61 L614.91,694.55 L611.92,694.49 L608.92,694.42 L605.9,694.35 L602.88,694.27 L599.84,694.19 L596.79,694.09 L593.73,693.99 L590.66,693.89 L587.58,693.78 L584.49,693.66 L581.39,693.54 L578.28,693.41 L575.16,693.28 L572.04,693.14 L568.9,692.99 L565.76,692.84 L562.61,692.68 L559.45,692.51 L556.28,692.34 L553.11,692.16 L549.94,691.98 L546.75,691.79 L543.56,691.6 L540.37,691.4 L537.17,691.19 L533.97,690.98 L530.76,690.76 L527.55,690.54 L524.33,690.31 L521.11,690.07 L517.89,689.83 L514.67,689.59 L511.44,689.33 L508.22,689.08 L504.99,688.81 L501.76,688.54 L498.53,688.27 L495.3,687.99 L492.07,687.7 L488.84,687.41 L485.62,687.12 L482.39,686.81 L479.16,686.51 L475.94,686.19 L472.72,685.88 L469.5,685.55 L466.28,685.23 L463.07,684.89 L459.86,684.55 L456.66,684.21 L453.46,683.86 L450.26,683.51 L447.07,683.15 L443.89,682.79 L440.71,682.42 L437.53,682.05 L434.37,681.67 L431.21,681.28 L428.06,680.9 L424.91,680.5 L421.77,680.11 L418.64,679.71 L415.52,679.3 L412.41,678.89 L409.31,678.47 L406.22,678.05 L403.13,677.63 L400.06,677.2 L397,676.77 L393.95,676.33 L390.91,675.89 L387.88,675.45 L384.86,675 L381.86,674.55 L378.86,674.09 L375.88,673.63 L372.92,673.16 L369.97,672.69 L367.03,672.22 L364.1,671.74 L361.19,671.26 L358.3,670.78 L355.42,670.29 L352.56,669.8 L349.71,669.31 L346.88,668.81 L344.06,668.31 L341.26,667.8 L338.48,667.3 L335.71,666.79 L332.97,666.27 L330.24,665.75 L327.53,665.23 L324.83,664.71 L322.16,664.19 L319.51,663.66 L316.87,663.12 L314.26,662.59 L311.66,662.05 L309.09,661.51 L306.53,660.97 L304,660.43 L301.48,659.88 L298.99,659.33 L296.52,658.78 L294.08,658.22 L291.65,657.67 L289.25,657.11 L286.87,656.55 L284.51,655.98 L282.18,655.42 L279.87,654.85 L277.58,654.28 L275.32,653.71 L273.08,653.14 L270.86,652.57 L268.67,651.99 L266.51,651.42 L264.37,650.84 L262.26,650.26 L260.17,649.68 L258.11,649.1 L256.07,648.51 L254.06,647.93 L252.08,647.34 L250.12,646.76 L248.19,646.17 L246.29,645.58 L244.42,644.99 L242.57,644.4 L240.75,643.81 L238.96,643.22 L237.2,642.63 L235.46,642.03 L233.76,641.44 L232.08,640.85 L230.43,640.25 L228.82,639.66 L227.23,639.07 L225.67,638.47 L224.14,637.88 L222.64,637.28 L221.17,636.69 L219.73,636.1 L218.32,635.5 L216.94,634.91 L215.59,634.32 L214.27,633.73 L212.99,633.13 L211.73,632.54 L210.51,631.95 L209.31,631.36 L208.15,630.77 L207.02,630.18 L205.92,629.59 L204.86,629.01 L203.82,628.42 L202.82,627.84 L201.85,627.25 L200.91,626.67 L200.01,626.09 L199.14,625.51 L198.29,624.93 L197.49,624.35 L196.71,623.78 L195.97,623.2 L195.26,622.63 Z" fill="#585858"/>
<g clip-path="url(#hcclip)" fill="#f5f5f5" stroke="#2a2a2a" stroke-width="0.8" vector-effect="non-scaling-stroke"><circle r="1" transform="matrix(-0.76 0.74 12.43 2.80 744.4 664.2)" vector-effect="non-scaling-stroke"/><circle r="1" transform="matrix(-1.87 1.71 11.02 1.02 740.8 665.8)" vector-effect="non-scaling-stroke"/><circle r="1" transform="matrix(-3.47 1.53 10.75 1.35 735.4 669.1)" vector-effect="non-scaling-stroke"/><circle r="1" transform="matrix(-5.15 1.31 10.28 1.68 725.9 672.2)" vector-effect="non-scaling-stroke"/><circle r="1" transform="matrix(-6.69 1.08 9.67 1.96 713.3 674.7)" vector-effect="non-scaling-stroke"/><circle r="1" transform="matrix(-7.97 0.86 9.01 2.18 699.6 676.5)" vector-effect="non-scaling-stroke"/><circle r="1" transform="matrix(-9.29 0.61 8.14 2.39 681.6 678.1)" vector-effect="non-scaling-stroke"/><circle r="1" transform="matrix(-10.67 0.30 6.97 2.59 657.1 679.2)" vector-effect="non-scaling-stroke"/><circle r="1" transform="matrix(-11.58 0.06 5.98 2.70 636.3 679.5)" vector-effect="non-scaling-stroke"/><circle r="1" transform="matrix(-12.44 -0.21 4.78 2.78 611.1 679.4)" vector-effect="non-scaling-stroke"/><circle r="1" transform="matrix(-13.21 -0.51 3.29 2.82 579.9 678.5)" vector-effect="non-scaling-stroke"/><circle r="1" transform="matrix(-13.64 -0.75 2.09 2.80 554.6 677.3)" vector-effect="non-scaling-stroke"/><circle r="1" transform="matrix(-13.94 -1.01 0.61 2.73 523.4 675.3)" vector-effect="non-scaling-stroke"/><circle r="1" transform="matrix(-14.01 -1.23 -0.68 2.63 496.0 673.1)" vector-effect="non-scaling-stroke"/><circle r="1" transform="matrix(-13.88 -1.45 -2.11 2.47 465.7 670.2)" vector-effect="non-scaling-stroke"/><circle r="1" transform="matrix(-13.59 -1.63 -3.35 2.29 439.5 667.3)" vector-effect="non-scaling-stroke"/><circle r="1" transform="matrix(-13.02 -1.82 -4.80 2.03 408.7 663.3)" vector-effect="non-scaling-stroke"/><circle r="1" transform="matrix(-12.27 -1.97 -6.11 1.75 380.8 659.1)" vector-effect="non-scaling-stroke"/><circle r="1" transform="matrix(-11.43 -2.08 -7.20 1.46 357.5 655.1)" vector-effect="non-scaling-stroke"/><circle r="1" transform="matrix(-10.32 -2.16 -8.32 1.12 333.6 650.5)" vector-effect="non-scaling-stroke"/><circle r="1" transform="matrix(-9.12 -2.22 -9.26 0.77 313.4 645.9)" vector-effect="non-scaling-stroke"/><circle r="1" transform="matrix(-7.95 -2.24 -10.00 0.44 297.6 641.8)" vector-effect="non-scaling-stroke"/><circle r="1" transform="matrix(-6.29 -2.23 -10.79 0.00 280.5 636.4)" vector-effect="non-scaling-stroke"/><circle r="1" transform="matrix(-4.79 -2.18 -11.31 -0.38 269.2 631.9)" vector-effect="non-scaling-stroke"/><circle r="1" transform="matrix(-3.26 -2.11 -11.67 -0.75 261.2 627.7)" vector-effect="non-scaling-stroke"/><circle r="1" transform="matrix(-1.68 -2.02 -11.89 -1.11 256.3 623.5)" vector-effect="non-scaling-stroke"/><circle r="1" transform="matrix(0.72 -0.75 -11.13 0.57 255.4 621.1)" vector-effect="non-scaling-stroke"/><circle r="1" transform="matrix(1.85 -1.73 -11.02 0.21 257.5 617.6)" vector-effect="non-scaling-stroke"/><circle r="1" transform="matrix(3.59 -1.53 -10.71 -0.18 263.5 614.0)" vector-effect="non-scaling-stroke"/><circle r="1" transform="matrix(5.25 -1.31 -10.22 -0.54 273.2 610.9)" vector-effect="non-scaling-stroke"/><circle r="1" transform="matrix(6.73 -1.09 -9.62 -0.84 285.4 608.5)" vector-effect="non-scaling-stroke"/><circle r="1" transform="matrix(8.22 -0.83 -8.81 -1.12 301.8 606.4)" vector-effect="non-scaling-stroke"/><circle r="1" transform="matrix(9.40 -0.60 -7.99 -1.33 318.4 605.0)" vector-effect="non-scaling-stroke"/><circle r="1" transform="matrix(10.67 -0.31 -6.87 -1.53 341.3 604.0)" vector-effect="non-scaling-stroke"/><circle r="1" transform="matrix(11.63 -0.06 -5.81 -1.66 363.1 603.6)" vector-effect="non-scaling-stroke"/><circle r="1" transform="matrix(12.56 0.24 -4.45 -1.76 391.1 603.8)" vector-effect="non-scaling-stroke"/><circle r="1" transform="matrix(13.22 0.50 -3.15 -1.80 418.0 604.6)" vector-effect="non-scaling-stroke"/><circle r="1" transform="matrix(13.63 0.72 -1.99 -1.79 441.9 605.7)" vector-effect="non-scaling-stroke"/><circle r="1" transform="matrix(13.93 0.98 -0.58 -1.74 471.2 607.5)" vector-effect="non-scaling-stroke"/><circle r="1" transform="matrix(14.03 1.22 0.87 -1.63 501.1 609.9)" vector-effect="non-scaling-stroke"/><circle r="1" transform="matrix(13.88 1.47 2.50 -1.45 535.0 613.1)" vector-effect="non-scaling-stroke"/><circle r="1" transform="matrix(13.58 1.65 3.74 -1.26 560.9 616.1)" vector-effect="non-scaling-stroke"/><circle r="1" transform="matrix(13.04 1.83 5.14 -1.00 590.0 619.9)" vector-effect="non-scaling-stroke"/><circle r="1" transform="matrix(12.37 1.96 6.34 -0.73 615.1 623.6)" vector-effect="non-scaling-stroke"/><circle r="1" transform="matrix(11.45 2.09 7.59 -0.40 641.2 628.0)" vector-effect="non-scaling-stroke"/><circle r="1" transform="matrix(10.41 2.17 8.66 -0.05 663.7 632.4)" vector-effect="non-scaling-stroke"/><circle r="1" transform="matrix(9.21 2.23 9.64 0.32 684.3 637.0)" vector-effect="non-scaling-stroke"/><circle r="1" transform="matrix(7.81 2.25 10.53 0.74 703.1 642.0)" vector-effect="non-scaling-stroke"/><circle r="1" transform="matrix(6.35 2.24 11.23 1.15 718.0 646.7)" vector-effect="non-scaling-stroke"/><circle r="1" transform="matrix(4.69 2.20 11.81 1.60 730.4 651.7)" vector-effect="non-scaling-stroke"/><circle r="1" transform="matrix(3.14 2.12 12.17 2.01 738.3 656.1)" vector-effect="non-scaling-stroke"/><circle r="1" transform="matrix(1.38 2.01 12.39 2.45 743.3 660.6)" vector-effect="non-scaling-stroke"/><circle r="1" transform="matrix(-1.27 2.16 11.09 0.86 766.9 666.1)" vector-effect="non-scaling-stroke"/><circle r="1" transform="matrix(-3.17 1.95 10.87 1.22 762.1 670.6)" vector-effect="non-scaling-stroke"/><circle r="1" transform="matrix(-4.86 1.74 10.52 1.53 754.1 674.2)" vector-effect="non-scaling-stroke"/><circle r="1" transform="matrix(-6.42 1.52 10.05 1.80 743.5 677.3)" vector-effect="non-scaling-stroke"/><circle r="1" transform="matrix(-8.29 1.20 9.27 2.10 725.8 680.6)" vector-effect="non-scaling-stroke"/><circle r="1" transform="matrix(-9.84 0.91 8.43 2.33 706.2 682.8)" vector-effect="non-scaling-stroke"/><circle r="1" transform="matrix(-11.19 0.60 7.48 2.52 684.3 684.4)" vector-effect="non-scaling-stroke"/><circle r="1" transform="matrix(-12.33 0.31 6.48 2.65 661.2 685.3)" vector-effect="non-scaling-stroke"/><circle r="1" transform="matrix(-13.39 -0.02 5.27 2.75 633.3 685.6)" vector-effect="non-scaling-stroke"/><circle r="1" transform="matrix(-14.16 -0.30 4.15 2.80 607.2 685.3)" vector-effect="non-scaling-stroke"/><circle r="1" transform="matrix(-14.87 -0.66 2.67 2.81 572.7 684.2)" vector-effect="non-scaling-stroke"/><circle r="1" transform="matrix(-15.27 -0.94 1.38 2.77 542.6 682.6)" vector-effect="non-scaling-stroke"/><circle r="1" transform="matrix(-15.46 -1.22 0.07 2.69 512.1 680.4)" vector-effect="non-scaling-stroke"/><circle r="1" transform="matrix(-15.45 -1.48 -1.26 2.57 480.9 677.7)" vector-effect="non-scaling-stroke"/><circle r="1" transform="matrix(-15.17 -1.77 -2.86 2.37 443.5 673.7)" vector-effect="non-scaling-stroke"/><circle r="1" transform="matrix(-14.66 -2.00 -4.24 2.14 411.2 669.6)" vector-effect="non-scaling-stroke"/><circle r="1" transform="matrix(-14.10 -2.16 -5.30 1.93 386.3 666.0)" vector-effect="non-scaling-stroke"/><circle r="1" transform="matrix(-13.09 -2.35 -6.69 1.60 353.6 660.6)" vector-effect="non-scaling-stroke"/><circle r="1" transform="matrix(-12.08 -2.47 -7.73 1.31 329.1 655.9)" vector-effect="non-scaling-stroke"/><circle r="1" transform="matrix(-10.90 -2.56 -8.70 0.98 306.1 650.9)" vector-effect="non-scaling-stroke"/><circle r="1" transform="matrix(-9.45 -2.62 -9.63 0.61 284.1 645.3)" vector-effect="non-scaling-stroke"/><circle r="1" transform="matrix(-7.75 -2.64 -10.47 0.19 264.2 639.2)" vector-effect="non-scaling-stroke"/><circle r="1" transform="matrix(-6.04 -2.62 -11.09 -0.20 249.3 633.5)" vector-effect="non-scaling-stroke"/><circle r="1" transform="matrix(-4.58 -2.57 -11.47 -0.53 240.0 629.0)" vector-effect="non-scaling-stroke"/><circle r="1" transform="matrix(-2.55 -2.47 -11.82 -0.97 231.6 623.0)" vector-effect="non-scaling-stroke"/><circle r="1" transform="matrix(-0.90 -2.35 -11.94 -1.31 228.4 618.5)" vector-effect="non-scaling-stroke"/><circle r="1" transform="matrix(1.22 -2.22 -11.09 0.38 231.5 620.2)" vector-effect="non-scaling-stroke"/><circle r="1" transform="matrix(2.94 -2.03 -10.90 0.03 235.5 616.0)" vector-effect="non-scaling-stroke"/><circle r="1" transform="matrix(4.95 -1.78 -10.48 -0.37 244.8 611.6)" vector-effect="non-scaling-stroke"/><circle r="1" transform="matrix(6.72 -1.52 -9.91 -0.70 257.3 608.0)" vector-effect="non-scaling-stroke"/><circle r="1" transform="matrix(8.21 -1.27 -9.28 -0.97 271.6 605.4)" vector-effect="non-scaling-stroke"/><circle r="1" transform="matrix(9.88 -0.94 -8.35 -1.24 292.5 602.8)" vector-effect="non-scaling-stroke"/><circle r="1" transform="matrix(11.07 -0.67 -7.51 -1.42 311.6 601.3)" vector-effect="non-scaling-stroke"/><circle r="1" transform="matrix(12.25 -0.37 -6.48 -1.59 335.0 600.3)" vector-effect="non-scaling-stroke"/><circle r="1" transform="matrix(13.41 -0.01 -5.16 -1.72 364.9 599.8)" vector-effect="non-scaling-stroke"/><circle r="1" transform="matrix(14.17 0.27 -4.04 -1.78 390.7 600.1)" vector-effect="non-scaling-stroke"/><circle r="1" transform="matrix(14.85 0.61 -2.65 -1.80 422.3 601.0)" vector-effect="non-scaling-stroke"/><circle r="1" transform="matrix(15.30 0.93 -1.20 -1.77 455.5 602.7)" vector-effect="non-scaling-stroke"/><circle r="1" transform="matrix(15.51 1.24 0.27 -1.68 489.3 605.1)" vector-effect="non-scaling-stroke"/><circle r="1" transform="matrix(15.50 1.49 1.56 -1.56 519.0 607.7)" vector-effect="non-scaling-stroke"/><circle r="1" transform="matrix(15.27 1.75 2.94 -1.38 550.7 611.0)" vector-effect="non-scaling-stroke"/><circle r="1" transform="matrix(14.72 2.02 4.54 -1.12 587.6 615.7)" vector-effect="non-scaling-stroke"/><circle r="1" transform="matrix(14.10 2.19 5.71 -0.88 614.6 619.6)" vector-effect="non-scaling-stroke"/><circle r="1" transform="matrix(13.09 2.39 7.11 -0.54 647.0 625.1)" vector-effect="non-scaling-stroke"/><circle r="1" transform="matrix(12.00 2.52 8.24 -0.20 673.1 630.2)" vector-effect="non-scaling-stroke"/><circle r="1" transform="matrix(10.87 2.60 9.17 0.13 694.7 635.0)" vector-effect="non-scaling-stroke"/><circle r="1" transform="matrix(9.43 2.67 10.10 0.53 716.5 640.7)" vector-effect="non-scaling-stroke"/><circle r="1" transform="matrix(7.85 2.69 10.89 0.94 734.9 646.4)" vector-effect="non-scaling-stroke"/><circle r="1" transform="matrix(6.14 2.67 11.53 1.37 750.0 652.2)" vector-effect="non-scaling-stroke"/><circle r="1" transform="matrix(4.39 2.61 11.99 1.79 761.0 657.7)" vector-effect="non-scaling-stroke"/><circle r="1" transform="matrix(2.58 2.52 12.29 2.21 768.3 663.1)" vector-effect="non-scaling-stroke"/><circle r="1" transform="matrix(-1.35 -1.04 12.43 2.63 771.8 668.3)" vector-effect="non-scaling-stroke"/><circle r="1" transform="matrix(-3.82 -3.05 11.14 0.69 792.4 665.4)" vector-effect="non-scaling-stroke"/><circle r="1" transform="matrix(-2.28 2.45 11.02 1.02 789.8 670.3)" vector-effect="non-scaling-stroke"/><circle r="1" transform="matrix(-4.26 2.22 10.74 1.35 783.0 675.1)" vector-effect="non-scaling-stroke"/><circle r="1" transform="matrix(-6.32 1.93 10.27 1.68 771.3 679.7)" vector-effect="non-scaling-stroke"/><circle r="1" transform="matrix(-7.99 1.66 9.72 1.94 757.6 683.2)" vector-effect="non-scaling-stroke"/><circle r="1" transform="matrix(-9.76 1.34 8.97 2.19 738.7 686.4)" vector-effect="non-scaling-stroke"/><circle r="1" transform="matrix(-11.56 0.95 7.96 2.43 713.1 689.1)" vector-effect="non-scaling-stroke"/><circle r="1" transform="matrix(-12.85 0.63 7.04 2.58 689.7 690.6)" vector-effect="non-scaling-stroke"/><circle r="1" transform="matrix(-14.10 0.26 5.91 2.71 661.2 691.6)" vector-effect="non-scaling-stroke"/><circle r="1" transform="matrix(-15.03 -0.07 4.83 2.78 633.8 691.7)" vector-effect="non-scaling-stroke"/><circle r="1" transform="matrix(-15.92 -0.47 3.45 2.82 598.5 691.1)" vector-effect="non-scaling-stroke"/><circle r="1" transform="matrix(-16.52 -0.84 2.06 2.80 563.1 689.7)" vector-effect="non-scaling-stroke"/><circle r="1" transform="matrix(-16.84 -1.15 0.84 2.74 531.9 687.9)" vector-effect="non-scaling-stroke"/><circle r="1" transform="matrix(-16.95 -1.52 -0.72 2.62 492.0 684.7)" vector-effect="non-scaling-stroke"/><circle r="1" transform="matrix(-16.79 -1.83 -2.11 2.47 456.3 681.2)" vector-effect="non-scaling-stroke"/><circle r="1" transform="matrix(-16.45 -2.08 -3.32 2.30 425.3 677.5)" vector-effect="non-scaling-stroke"/><circle r="1" transform="matrix(-15.75 -2.36 -4.79 2.03 387.5 672.3)" vector-effect="non-scaling-stroke"/><circle r="1" transform="matrix(-14.91 -2.57 -6.01 1.77 356.2 667.3)" vector-effect="non-scaling-stroke"/><circle r="1" transform="matrix(-13.77 -2.75 -7.23 1.45 324.6 661.5)" vector-effect="non-scaling-stroke"/><circle r="1" transform="matrix(-12.57 -2.88 -8.24 1.14 298.7 655.9)" vector-effect="non-scaling-stroke"/><circle r="1" transform="matrix(-11.00 -2.99 -9.27 0.76 272.0 649.3)" vector-effect="non-scaling-stroke"/><circle r="1" transform="matrix(-9.35 -3.04 -10.10 0.39 250.4 642.9)" vector-effect="non-scaling-stroke"/><circle r="1" transform="matrix(-7.84 -3.05 -10.70 0.06 234.9 637.4)" vector-effect="non-scaling-stroke"/><circle r="1" transform="matrix(-5.96 -3.02 -11.26 -0.34 220.2 630.9)" vector-effect="non-scaling-stroke"/><circle r="1" transform="matrix(-3.76 -2.93 -11.69 -0.78 208.7 623.9)" vector-effect="non-scaling-stroke"/><circle r="1" transform="matrix(-1.62 -2.80 -11.91 -1.18 202.7 617.5)" vector-effect="non-scaling-stroke"/><circle r="1" transform="matrix(2.28 2.91 -11.95 -1.51 201.4 612.6)" vector-effect="non-scaling-stroke"/><circle r="1" transform="matrix(2.28 -2.54 -11.02 0.21 208.5 618.6)" vector-effect="non-scaling-stroke"/><circle r="1" transform="matrix(4.35 -2.29 -10.72 -0.17 215.7 613.3)" vector-effect="non-scaling-stroke"/><circle r="1" transform="matrix(6.20 -2.03 -10.28 -0.50 226.2 609.0)" vector-effect="non-scaling-stroke"/><circle r="1" transform="matrix(8.08 -1.73 -9.67 -0.82 241.4 605.0)" vector-effect="non-scaling-stroke"/><circle r="1" transform="matrix(9.81 -1.40 -8.91 -1.09 260.1 601.8)" vector-effect="non-scaling-stroke"/><circle r="1" transform="matrix(11.43 -1.05 -8.00 -1.33 282.8 599.1)" vector-effect="non-scaling-stroke"/><circle r="1" transform="matrix(12.93 -0.67 -6.92 -1.52 309.6 597.2)" vector-effect="non-scaling-stroke"/><circle r="1" transform="matrix(14.11 -0.32 -5.84 -1.66 336.4 596.3)" vector-effect="non-scaling-stroke"/><circle r="1" transform="matrix(15.17 0.06 -4.59 -1.75 367.8 596.0)" vector-effect="non-scaling-stroke"/><circle r="1" transform="matrix(16.05 0.47 -3.17 -1.80 403.3 596.6)" vector-effect="non-scaling-stroke"/><circle r="1" transform="matrix(16.55 0.78 -2.01 -1.79 432.6 597.7)" vector-effect="non-scaling-stroke"/><circle r="1" transform="matrix(16.94 1.18 -0.45 -1.73 471.7 600.0)" vector-effect="non-scaling-stroke"/><circle r="1" transform="matrix(17.03 1.53 1.02 -1.61 508.7 603.0)" vector-effect="non-scaling-stroke"/><circle r="1" transform="matrix(16.89 1.82 2.31 -1.47 541.4 606.2)" vector-effect="non-scaling-stroke"/><circle r="1" transform="matrix(16.50 2.11 3.68 -1.27 576.0 610.3)" vector-effect="non-scaling-stroke"/><circle r="1" transform="matrix(15.79 2.40 5.19 -0.99 614.1 615.6)" vector-effect="non-scaling-stroke"/><circle r="1" transform="matrix(15.02 2.60 6.33 -0.74 642.9 620.3)" vector-effect="non-scaling-stroke"/><circle r="1" transform="matrix(13.95 2.79 7.52 -0.42 673.1 625.9)" vector-effect="non-scaling-stroke"/><circle r="1" transform="matrix(12.60 2.95 8.67 -0.05 702.5 632.2)" vector-effect="non-scaling-stroke"/><circle r="1" transform="matrix(11.05 3.06 9.70 0.35 728.7 638.9)" vector-effect="non-scaling-stroke"/><circle r="1" transform="matrix(9.61 3.11 10.45 0.70 747.9 644.6)" vector-effect="non-scaling-stroke"/><circle r="1" transform="matrix(7.76 3.13 11.20 1.13 767.0 651.5)" vector-effect="non-scaling-stroke"/><circle r="1" transform="matrix(5.87 3.10 11.75 1.56 781.5 658.1)" vector-effect="non-scaling-stroke"/><circle r="1" transform="matrix(3.70 3.01 12.18 2.02 792.6 665.2)" vector-effect="non-scaling-stroke"/><circle r="1" transform="matrix(1.84 2.90 12.38 2.41 798.0 670.9)" vector-effect="non-scaling-stroke"/></g>
<ellipse cx="499.2" cy="641.0" rx="232.3" ry="29.3" transform="rotate(5.0 499.2 641.0)" fill="#fff" stroke="#111" stroke-width="1.4"/>
<path d="M279.8,617 C280.87,619.73 289.97,625.25 300,629 C310.03,632.75 321.67,635.42 340,639.5 C358.33,643.58 387.5,649.92 410,653.5 C432.5,657.08 453.33,658.92 475,661 C496.67,663.08 517.5,664.92 540,666 C562.5,667.08 590,667.33 610,667.5 C630,667.67 645,667.33 660,667 C675,666.67 690,667 700,665.5 C710,664 715.67,660.42 720,658 C724.33,655.58 727,652.67 726,651 C725,649.33 718.33,647.25 714,648 C709.67,648.75 709,653.58 700,655.5 C691,657.42 675,658.58 660,659.5 C645,660.42 630,661.15 610,661 C590,660.85 562.5,660.18 540,658.6 C517.5,657.02 496.67,654.27 475,651.5 C453.33,648.73 432.5,645.58 410,642 C387.5,638.42 357.5,634 340,630 C322.5,626 312.73,620.9 305,618 C297.27,615.1 297.8,612.77 293.6,612.6 C289.4,612.43 278.73,614.27 279.8,617 Z" fill="#e6e6e6"/>
<path d="M279.8,617 C283.17,619 289.97,625.25 300,629 C310.03,632.75 321.67,635.42 340,639.5 C358.33,643.58 387.5,649.92 410,653.5 C432.5,657.08 453.33,658.92 475,661 C496.67,663.08 517.5,664.92 540,666 C562.5,667.08 590,667.33 610,667.5 C630,667.67 645,667.33 660,667 C675,666.67 690,667 700,665.5 C710,664 715.67,660.42 720,658 C724.33,655.58 725,652.17 726,651" fill="none" stroke="#111" stroke-width="2.6"/>
<path d="M283,618.5 C286.08,619.88 291.75,623.67 301.5,626.8 C311.25,629.93 323.17,633.22 341.5,637.3 C359.83,641.38 389,647.72 411.5,651.3 C434,654.88 454.83,656.72 476.5,658.8 C498.17,660.88 519,662.72 541.5,663.8 C564,664.88 591.5,665.13 611.5,665.3 C631.5,665.47 646.5,665.13 661.5,664.8 C676.5,664.47 691.5,664.8 701.5,663.3 C711.5,661.8 718.08,657.52 721.5,655.8 C724.92,654.08 721.92,653.47 722,653" fill="none" stroke="#111" stroke-width="2.4"/>
<path d="M293.6,612.6 C295.5,613.5 297.27,615.1 305,618 C312.73,620.9 322.5,626 340,630 C357.5,634 387.5,638.42 410,642 C432.5,645.58 453.33,648.73 475,651.5 C496.67,654.27 517.5,657.02 540,658.6 C562.5,660.18 590,660.85 610,661 C630,661.15 645,660.42 660,659.5 C675,658.58 691,657.42 700,655.5 C709,653.58 711.67,649.25 714,648" fill="none" stroke="#222" stroke-width="1.3"/>
<path d="M304,609.5 C306,608 322.33,608.08 340,607.5 C357.67,606.92 387.5,605.67 410,606 C432.5,606.33 453.33,607.88 475,609.5 C496.67,611.12 517.5,612.95 540,615.7 C562.5,618.45 588.33,622.28 610,626 C631.67,629.72 654.33,634.17 670,638 C685.67,641.83 700.67,646.5 704,649 C707.33,651.5 705.67,652.75 690,653 C674.33,653.25 635,651.4 610,650.5 C585,649.6 565,649.28 540,647.6 C515,645.92 482.17,642.88 460,640.4 C437.83,637.92 423.5,635.27 407,632.7 C390.5,630.13 374.17,627.7 361,625 C347.83,622.3 337.5,619.08 328,616.5 C318.5,613.92 302,611 304,609.5 Z" fill="#fff" stroke="#222" stroke-width="1.3"/>
<path d="M197.02,618.02 L197.53,617.52 L198.07,617.04 L198.64,616.55 L199.24,616.07 L199.88,615.6 L200.55,615.12 L201.26,614.65 L202,614.19 L202.77,613.73 L203.57,613.28 L204.41,612.82 L205.28,612.38 L206.18,611.93 L207.12,611.5 L208.09,611.06 L209.09,610.63 L210.12,610.21 L211.19,609.79 L212.28,609.37 L213.41,608.96 L214.57,608.56 L215.76,608.15 L216.99,607.76 L218.24,607.37 L219.53,606.98 L220.85,606.6 L222.2,606.22 L223.58,605.85 L224.99,605.49 L226.43,605.12 L227.9,604.77 L229.4,604.42 L230.93,604.07 L232.49,603.73 L234.08,603.4 L235.7,603.07 L237.35,602.74 L239.03,602.43 L240.74,602.11 L242.48,601.81 L244.24,601.5 L246.04,601.21 L247.86,600.92 L249.71,600.63 L251.59,600.35 L253.49,600.08 L255.43,599.81 L257.39,599.55 L259.37,599.29 L261.39,599.04 L263.43,598.8 L265.5,598.56 L267.59,598.32 L269.71,598.1 L271.85,597.88 L274.02,597.66 L276.22,597.45 L278.44,597.25 L280.68,597.05 L282.95,596.86 L285.25,596.68 L287.56,596.5 L289.9,596.32 L292.27,596.16 L294.66,596 L297.07,595.84 L299.5,595.69 L301.96,595.55 L304.43,595.42 L306.93,595.29 L309.45,595.17 L312,595.05 L314.56,594.94 L317.14,594.83 L319.75,594.74 L322.37,594.64 L325.02,594.56 L327.68,594.48 L330.36,594.41 L333.07,594.34 L335.79,594.28 L338.53,594.23 L341.28,594.18 L344.06,594.14 L346.85,594.11 L349.66,594.08 L352.49,594.06 L355.33,594.04 L358.19,594.03 L361.07,594.03 L363.96,594.04 L366.86,594.05 L369.79,594.06 L372.72,594.09 L375.67,594.12 L378.64,594.15 L381.62,594.2 L384.61,594.24 L387.61,594.3 L390.63,594.36 L393.66,594.43 L396.7,594.5 L399.75,594.58 L402.82,594.67 L405.89,594.77 L408.98,594.87 L412.08,594.97 L415.18,595.08 L418.3,595.2 L421.43,595.33 L424.56,595.46 L427.71,595.6 L430.86,595.74 L434.02,595.89 L437.18,596.05 L440.36,596.21 L443.54,596.38 L446.73,596.55 L449.92,596.73 L453.12,596.92 L456.33,597.11 L459.54,597.31 L462.76,597.51 L465.98,597.73 L469.2,597.94 L472.43,598.17 L475.66,598.39 L478.9,598.63 L482.13,598.87 L485.37,599.12 L488.61,599.37 L491.86,599.63 L495.1,599.89 L498.35,600.16 L501.59,600.44 L504.84,600.72 L508.09,601 L511.33,601.3 L514.58,601.59 L517.82,601.9 L521.06,602.21 L524.3,602.52 L527.54,602.84 L530.78,603.17 L534.01,603.5 L537.24,603.84 L540.46,604.18 L543.68,604.52 L546.9,604.88 L550.11,605.23 L553.32,605.6 L556.52,605.96 L559.72,606.34 L562.91,606.72 L566.09,607.1 L569.26,607.49 L572.43,607.88 L575.59,608.28 L578.75,608.68 L581.89,609.09 L585.03,609.5 L588.16,609.92 L591.27,610.34 L594.38,610.76 L597.48,611.19 L600.57,611.63 L603.65,612.07 L606.71,612.51 L609.77,612.96 L612.81,613.41 L615.85,613.87 L618.86,614.33 L621.87,614.8 L624.87,615.27 L627.85,615.74 L630.81,616.22 L633.77,616.7 L636.7,617.19 L639.63,617.67 L642.54,618.17 L645.43,618.66 L648.31,619.17 L651.17,619.67 L654.02,620.18 L656.85,620.69 L659.66,621.2 L662.46,621.72 L665.23,622.24 L668,622.77 L670.74,623.3 L673.46,623.83 L676.17,624.36 L678.85,624.9 L681.52,625.44 L684.17,625.98 L686.8,626.53 L689.41,627.08 L691.99,627.63 L694.56,628.19 L697.11,628.74 L699.63,629.3 L702.13,629.87 L704.62,630.43 L707.07,631 L709.51,631.57 L711.93,632.14 L714.32,632.72 L716.69,633.29 L719.03,633.87 L721.35,634.45 L723.65,635.03 L725.92,635.62 L728.17,636.21 L730.4,636.79 L732.6,637.38 L734.77,637.97 L736.92,638.57 L739.04,639.16 L741.14,639.76 L743.21,640.36 L745.26,640.95 L747.28,641.55 L749.27,642.16 L751.23,642.76 L753.17,643.36 L755.08,643.97 L756.97,644.57 L758.82,645.18 L760.65,645.78 L762.45,646.39 L764.22,647 L765.96,647.61 L767.67,648.22 L769.36,648.83 L771.01,649.44 L772.64,650.05 L774.23,650.66 L775.8,651.27 L777.34,651.88 L778.84,652.49 L780.32,653.1 L781.77,653.72 L783.18,654.33 L784.57,654.94 L785.92,655.55 L787.24,656.16 L788.54,656.77 L789.8,657.38 L791.03,657.99 L792.22,658.59 L793.39,659.2 L794.52,659.81 L795.63,660.41 L796.7,661.02 L797.73,661.62 L798.74,662.23 L799.71,662.83 L800.66,663.43 L801.56,664.03" fill="none" stroke="#111" stroke-width="1.5"/>
<path d="M195.32,596.39 L195.53,595.8 L195.77,595.22 L196.04,594.64 L196.35,594.06 L196.7,593.49 L197.07,592.92 L197.48,592.35 L197.93,591.79 L198.4,591.23 L198.92,590.67 L199.46,590.12 L200.04,589.58 L200.65,589.04 L201.29,588.5 L201.97,587.96 L202.68,587.43 L203.42,586.91 L204.2,586.39 L205.01,585.87 L205.85,585.36 L206.72,584.85 L207.63,584.35 L208.57,583.85 L209.54,583.36 L210.54,582.87 L211.58,582.39 L212.65,581.91 L213.74,581.44 L214.88,580.97 L216.04,580.51 L217.23,580.05 L218.46,579.6 L219.72,579.15 L221,578.71 L222.32,578.27 L223.67,577.84 L225.05,577.41 L226.47,576.99 L227.91,576.58 L229.38,576.17 L230.88,575.77 L232.41,575.37 L233.97,574.98 L235.57,574.59 L237.19,574.21 L238.84,573.83 L240.51,573.46 L242.22,573.1 L243.96,572.74 L245.72,572.39 L247.51,572.05 L249.34,571.71 L251.18,571.37 L253.06,571.05 L254.96,570.73 L256.9,570.41 L258.85,570.1 L260.84,569.8 L262.85,569.51 L264.89,569.22 L266.95,568.93 L269.04,568.66 L271.16,568.39 L273.3,568.12 L275.47,567.87 L277.66,567.62 L279.87,567.37 L282.11,567.14 L284.38,566.9 L286.67,566.68 L288.98,566.46 L291.32,566.25 L293.68,566.05 L296.06,565.85 L298.46,565.66 L300.89,565.48 L303.34,565.3 L305.81,565.13 L308.31,564.96 L310.82,564.81 L313.36,564.66 L315.91,564.52 L318.49,564.38 L321.09,564.25 L323.71,564.13 L326.34,564.01 L329,563.9 L331.68,563.8 L334.37,563.71 L337.08,563.62 L339.82,563.54 L342.57,563.47 L345.33,563.4 L348.12,563.34 L350.92,563.29 L353.74,563.24 L356.57,563.21 L359.42,563.18 L362.29,563.15 L365.17,563.13 L368.07,563.12 L370.98,563.12 L373.91,563.13 L376.85,563.14 L379.8,563.15 L382.77,563.18 L385.75,563.21 L388.74,563.25 L391.75,563.3 L394.77,563.35 L397.8,563.41 L400.84,563.48 L403.9,563.55 L406.96,563.63 L410.04,563.72 L413.12,563.82 L416.22,563.92 L419.32,564.03 L422.44,564.15 L425.56,564.27 L428.69,564.4 L431.83,564.54 L434.98,564.68 L438.13,564.83 L441.3,564.99 L444.47,565.15 L447.64,565.32 L450.82,565.5 L454.01,565.69 L457.2,565.88 L460.4,566.08 L463.6,566.28 L466.81,566.49 L470.02,566.71 L473.24,566.94 L476.45,567.17 L479.68,567.41 L482.9,567.65 L486.13,567.91 L489.35,568.16 L492.58,568.43 L495.81,568.7 L499.04,568.98 L502.28,569.26 L505.51,569.55 L508.74,569.85 L511.97,570.15 L515.2,570.46 L518.43,570.77 L521.66,571.1 L524.88,571.42 L528.1,571.76 L531.32,572.1 L534.54,572.44 L537.75,572.8 L540.96,573.15 L544.17,573.52 L547.37,573.89 L550.57,574.26 L553.76,574.65 L556.95,575.03 L560.12,575.43 L563.3,575.83 L566.47,576.23 L569.63,576.64 L572.78,577.06 L575.92,577.48 L579.06,577.9 L582.19,578.34 L585.31,578.77 L588.42,579.22 L591.52,579.67 L594.62,580.12 L597.7,580.58 L600.77,581.04 L603.83,581.51 L606.88,581.98 L609.92,582.46 L612.95,582.95 L615.96,583.43 L618.97,583.93 L621.96,584.43 L624.94,584.93 L627.9,585.44 L630.85,585.95 L633.79,586.47 L636.71,586.99 L639.62,587.51 L642.51,588.04 L645.39,588.58 L648.25,589.12 L651.09,589.66 L653.92,590.21 L656.74,590.76 L659.53,591.31 L662.31,591.87 L665.07,592.43 L667.82,593 L670.54,593.57 L673.25,594.14 L675.94,594.72 L678.61,595.3 L681.26,595.89 L683.89,596.48 L686.5,597.07 L689.1,597.66 L691.67,598.26 L694.22,598.86 L696.75,599.47 L699.25,600.08 L701.74,600.69 L704.21,601.3 L706.65,601.92 L709.07,602.54 L711.47,603.16 L713.84,603.78 L716.2,604.41 L718.53,605.04 L720.83,605.67 L723.11,606.31 L725.37,606.95 L727.6,607.58 L729.81,608.23 L732,608.87 L734.16,609.52 L736.29,610.16 L738.4,610.81 L740.48,611.46 L742.53,612.12 L744.56,612.77 L746.57,613.43 L748.54,614.08 L750.49,614.74 L752.42,615.4 L754.31,616.07 L756.18,616.73 L758.02,617.39 L759.83,618.06 L761.62,618.73 L763.37,619.39 L765.1,620.06 L766.8,620.73 L768.47,621.4 L770.11,622.07 L771.72,622.74 L773.3,623.41 L774.86,624.09 L776.38,624.76 L777.87,625.43 L779.33,626.1 L780.77,626.78 L782.17,627.45 L783.54,628.12 L784.88,628.8 L786.19,629.47 L787.47,630.14 L788.72,630.81 L789.93,631.49 L791.12,632.16 L792.27,632.83 L793.39,633.5 L794.48,634.17 L795.54,634.84 L796.57,635.51 L797.56,636.17 L798.52,636.84 L799.45,637.51 L800.35,638.17 L801.21,638.83 L802.04,639.49 L802.84,640.15 L803.61,640.81 L804.34,641.47 L805.04,642.13 L805.71,642.78 L806.2,665 L804.87,665.62 L804.81,666.14 L804.71,666.65 L804.58,667.17 L804.42,667.67 L804.22,668.18 L803.99,668.68 L803.72,669.18 L803.42,669.68 L803.09,670.17 L802.72,670.66 L802.32,671.14 L801.89,671.62 L801.42,672.1 L800.92,672.57 L800.39,673.04 L799.82,673.51 L799.22,673.97 L798.58,674.43 L797.92,674.88 L797.22,675.33 L796.48,675.78 L795.72,676.22 L794.92,676.66 L794.09,677.09 L793.22,677.52 L792.32,677.95 L791.39,678.37 L790.43,678.78 L789.44,679.2 L788.41,679.6 L787.36,680.01 L786.27,680.4 L785.14,680.8 L783.99,681.19 L782.81,681.57 L781.59,681.95 L780.34,682.32 L779.06,682.69 L777.75,683.06 L776.41,683.42 L775.04,683.77 L773.64,684.12 L772.21,684.47 L770.75,684.81 L769.25,685.14 L767.73,685.47 L766.18,685.79 L764.6,686.11 L762.99,686.43 L761.35,686.74 L759.68,687.04 L757.98,687.34 L756.25,687.63 L754.5,687.92 L752.71,688.2 L750.9,688.47 L749.06,688.74 L747.19,689.01 L745.3,689.27 L743.38,689.52 L741.43,689.77 L739.45,690.01 L737.45,690.25 L735.42,690.48 L733.37,690.7 L731.28,690.92 L729.18,691.14 L727.05,691.35 L724.89,691.55 L722.7,691.74 L720.5,691.93 L718.26,692.12 L716.01,692.3 L713.73,692.47 L711.42,692.64 L709.1,692.8 L706.74,692.95 L704.37,693.1 L701.97,693.24 L699.55,693.38 L697.11,693.51 L694.65,693.63 L692.16,693.75 L689.65,693.86 L687.13,693.97 L684.58,694.07 L682.01,694.16 L679.42,694.25 L676.81,694.33 L674.18,694.41 L671.53,694.48 L668.86,694.54 L666.17,694.6 L663.46,694.65 L660.74,694.69 L658,694.73 L655.24,694.76 L652.46,694.79 L649.66,694.8 L646.85,694.82 L644.03,694.83 L641.18,694.83 L638.32,694.82 L635.45,694.81 L632.55,694.79 L629.65,694.77 L626.73,694.74 L623.79,694.7 L620.85,694.66 L617.88,694.61 L614.91,694.55 L611.92,694.49 L608.92,694.42 L605.9,694.35 L602.88,694.27 L599.84,694.19 L596.79,694.09 L593.73,693.99 L590.66,693.89 L587.58,693.78 L584.49,693.66 L581.39,693.54 L578.28,693.41 L575.16,693.28 L572.04,693.14 L568.9,692.99 L565.76,692.84 L562.61,692.68 L559.45,692.51 L556.28,692.34 L553.11,692.16 L549.94,691.98 L546.75,691.79 L543.56,691.6 L540.37,691.4 L537.17,691.19 L533.97,690.98 L530.76,690.76 L527.55,690.54 L524.33,690.31 L521.11,690.07 L517.89,689.83 L514.67,689.59 L511.44,689.33 L508.22,689.08 L504.99,688.81 L501.76,688.54 L498.53,688.27 L495.3,687.99 L492.07,687.7 L488.84,687.41 L485.62,687.12 L482.39,686.81 L479.16,686.51 L475.94,686.19 L472.72,685.88 L469.5,685.55 L466.28,685.23 L463.07,684.89 L459.86,684.55 L456.66,684.21 L453.46,683.86 L450.26,683.51 L447.07,683.15 L443.89,682.79 L440.71,682.42 L437.53,682.05 L434.37,681.67 L431.21,681.28 L428.06,680.9 L424.91,680.5 L421.77,680.11 L418.64,679.71 L415.52,679.3 L412.41,678.89 L409.31,678.47 L406.22,678.05 L403.13,677.63 L400.06,677.2 L397,676.77 L393.95,676.33 L390.91,675.89 L387.88,675.45 L384.86,675 L381.86,674.55 L378.86,674.09 L375.88,673.63 L372.92,673.16 L369.97,672.69 L367.03,672.22 L364.1,671.74 L361.19,671.26 L358.3,670.78 L355.42,670.29 L352.56,669.8 L349.71,669.31 L346.88,668.81 L344.06,668.31 L341.26,667.8 L338.48,667.3 L335.71,666.79 L332.97,666.27 L330.24,665.75 L327.53,665.23 L324.83,664.71 L322.16,664.19 L319.51,663.66 L316.87,663.12 L314.26,662.59 L311.66,662.05 L309.09,661.51 L306.53,660.97 L304,660.43 L301.48,659.88 L298.99,659.33 L296.52,658.78 L294.08,658.22 L291.65,657.67 L289.25,657.11 L286.87,656.55 L284.51,655.98 L282.18,655.42 L279.87,654.85 L277.58,654.28 L275.32,653.71 L273.08,653.14 L270.86,652.57 L268.67,651.99 L266.51,651.42 L264.37,650.84 L262.26,650.26 L260.17,649.68 L258.11,649.1 L256.07,648.51 L254.06,647.93 L252.08,647.34 L250.12,646.76 L248.19,646.17 L246.29,645.58 L244.42,644.99 L242.57,644.4 L240.75,643.81 L238.96,643.22 L237.2,642.63 L235.46,642.03 L233.76,641.44 L232.08,640.85 L230.43,640.25 L228.82,639.66 L227.23,639.07 L225.67,638.47 L224.14,637.88 L222.64,637.28 L221.17,636.69 L219.73,636.1 L218.32,635.5 L216.94,634.91 L215.59,634.32 L214.27,633.73 L212.99,633.13 L211.73,632.54 L210.51,631.95 L209.31,631.36 L208.15,630.77 L207.02,630.18 L205.92,629.59 L204.86,629.01 L203.82,628.42 L202.82,627.84 L201.85,627.25 L200.91,626.67 L200.01,626.09 L199.14,625.51 L198.29,624.93 L197.49,624.35 L196.71,623.78 L195.97,623.2 L195.26,622.63 L195.2,619 Z" fill="none" stroke="#111" stroke-width="1.7"/>
<ellipse cx="333" cy="612" rx="1.8" ry="1.2" fill="#585858"/>
<ellipse cx="368" cy="609" rx="1.8" ry="1.2" fill="#585858"/>
<ellipse cx="416" cy="616" rx="1.8" ry="1.2" fill="#585858"/>
<ellipse cx="448" cy="621" rx="1.8" ry="1.2" fill="#585858"/>
<ellipse cx="473" cy="615" rx="1.8" ry="1.2" fill="#585858"/>
<ellipse cx="490" cy="622" rx="1.8" ry="1.2" fill="#585858"/>
<ellipse cx="505" cy="627" rx="1.8" ry="1.2" fill="#585858"/>
<ellipse cx="522" cy="630" rx="1.8" ry="1.2" fill="#585858"/>
<ellipse cx="548" cy="618" rx="1.8" ry="1.2" fill="#585858"/>
<ellipse cx="571" cy="633" rx="1.8" ry="1.2" fill="#585858"/>
<ellipse cx="600" cy="630" rx="1.8" ry="1.2" fill="#585858"/>
<ellipse cx="623" cy="636" rx="1.8" ry="1.2" fill="#585858"/>
<ellipse cx="637" cy="628" rx="1.8" ry="1.2" fill="#585858"/>
<ellipse cx="580" cy="622" rx="1.8" ry="1.2" fill="#585858"/>
<ellipse cx="455" cy="610" rx="1.8" ry="1.2" fill="#585858"/>
<ellipse cx="520" cy="614" rx="1.8" ry="1.2" fill="#585858"/>
<ellipse cx="660" cy="641" rx="1.8" ry="1.2" fill="#585858"/>
<ellipse cx="345" cy="617" rx="1.8" ry="1.2" fill="#585858"/>
<rect x="503.5" y="506" width="20" height="12.5" rx="2" stroke="#1a1a1a" stroke-width="1.6" fill="#fff"/>
<rect x="496.5" y="500" width="35" height="10" rx="4" stroke="#1a1a1a" stroke-width="1.6" fill="#fff"/>
<rect x="497" y="492.5" width="35.5" height="8.5" rx="4" stroke="#1a1a1a" stroke-width="1.6" fill="#fff"/>
<path d="M501,493 L501,484 Q515,479 530,484 L530,493" stroke="#1a1a1a" stroke-width="1.6" fill="#fff"/>
<path d="M504,496 L504,508 M524,496 L524,508" stroke="#1a1a1a" stroke-width="1.2"/>
<path d="M603.5,500 Q612,496 620.5,499 L621,510 L604,510 Z" stroke="#1a1a1a" stroke-width="1.6" fill="#fff"/>
<path d="M609,501 L609,509 M615,501 L615,509" stroke="#444" stroke-width="1.2"/>
<path d="M606,510 L618,510 L617.5,521 Q612,523 606.5,521 Z" fill="#111"/>
<path d="M480.5,305 L488.5,215 Q496,211.5 504,214 L497.5,305 Z" stroke="#1a1a1a" stroke-width="1.5" fill="#fff"/>
<path d="M466.5,310 L474,303.5 L498,304.5 L506.5,312 L505.5,332.5 L466,331.5 Z" stroke="#1a1a1a" stroke-width="1.5" fill="#fff"/>
<path d="M467,309 L506,311 M475,304 L475,331 M495,305 L495,332" stroke="#1a1a1a" stroke-width="1.2" fill="none"/>
<path d="M465,332 L505.5,333 L504.5,341.5 L465,340.5 Z" stroke="#1a1a1a" stroke-width="1.5" fill="#fff"/>
<path d="M469.5,341 L498,341.8 L497,348 L470,347.5 Z" stroke="#1a1a1a" stroke-width="1.5" fill="#fff"/>
<path d="M478,341.5 L478,347.5 M489,341.8 L489,348" stroke="#1a1a1a" stroke-width="1.1" fill="none"/>
<ellipse cx="521" cy="437.5" rx="132.5" ry="23" transform="rotate(3.8 521 437.5)" fill="#fff" stroke="#1a1a1a" stroke-width="1.6"/>
<path d="M398,418 L406.5,361 Q410,352 428,349 L503,352 L538,353 L595,356 L619,363 Q640,368 646.5,376 L646.5,440 Q600,425 520,416 Q450,412 398,418 Z" fill="#fff" stroke="none"/>
<path d="M398,418 L406.5,361 Q410,352 428,349 L503,352 L538,353 L595,356 L619,363 Q640,368 646.5,376 L646.5,441" fill="none" stroke="#1a1a1a" stroke-width="1.6"/>
<path d="M392,420 Q430,412 500,414.5 Q580,420 651,443" stroke="#1a1a1a" stroke-width="1.6" fill="none"/>
<path d="M390,427 Q430,418 500,420 Q580,426 651,448" stroke="#1a1a1a" stroke-width="1.3" fill="none"/>
<path d="M430,355 L503,357.5 M538,359 L595,362 L619,368 Q640,374 646.5,382" stroke="#1a1a1a" stroke-width="1.2" fill="none"/>
<path d="M412,362 Q420,354 440,352" stroke="#1a1a1a" stroke-width="1.2" fill="none"/>
<path d="M430,352 L434,347 L440,347 L438,352 Z M447,353 L451,346 L458,347 L455,353 Z" fill="#888" stroke="#1a1a1a" stroke-width="1"/>
<path d="M506,351 L506,333 Q508,326 532,326 Q559,326 559.5,333 L559.5,353" stroke="#1a1a1a" stroke-width="1.5" fill="#fff"/>
<path d="M504,350 L538,352 L531,415 L501,414 Z" stroke="#1a1a1a" stroke-width="1.5" fill="#fff"/>
<path d="M516.5,352 Q518,341 525.5,340.5 Q534,341 535,352" fill="#fff" stroke="#1a1a1a" stroke-width="1.4"/>
<rect x="508.5" y="391" width="17" height="8" rx="2" fill="#fff" stroke="#1a1a1a" stroke-width="1.3"/>
<rect x="510.5" y="399" width="13" height="14" fill="#111"/>
<path d="M596,358 L611,362 L624,364 L623,396 L622,432 L591,425 L596,394 Z" fill="#fff" stroke="#1a1a1a" stroke-width="1.5"/>
<path d="M597,359 L603,360 L600,394 L594,394 Z M611,362 L618,363 L617,396 L610,395 Z" fill="#444" stroke="#1a1a1a" stroke-width="1"/>
<path d="M591,425 L596,396 Q606,392 622,396" stroke="#1a1a1a" stroke-width="1.4" fill="none"/>
<path d="M587,422 L592,396" stroke="#1a1a1a" stroke-width="1.3" fill="none"/>
<path d="M640,372 L641,438" stroke="#1a1a1a" stroke-width="1.3" fill="none"/>
<ellipse cx="406.5" cy="434.5" rx="6" ry="2.6" fill="#111"/>
<ellipse cx="513.5" cy="426" rx="6" ry="2.8" fill="#111"/>
<ellipse cx="635" cy="452" rx="5.5" ry="2.5" fill="#111"/>
<ellipse cx="528" cy="458.8" rx="6" ry="2.6" fill="#111"/>
<g transform="translate(490 740.5) rotate(5.2)">
<ellipse cx="0" cy="0" rx="205" ry="31.5" fill="#fff" stroke="#333" stroke-width="1.4"/>
<ellipse cx="0" cy="-1" rx="200" ry="29.5" fill="none" stroke="#666" stroke-width="0.9"/>
<ellipse cx="0" cy="0" rx="179" ry="27.92" fill="none" stroke="#0c0c0c" stroke-width="4.2"/>
<ellipse cx="0" cy="0" rx="154" ry="24.02" fill="none" stroke="#0c0c0c" stroke-width="4.2"/>
<ellipse cx="0" cy="0" rx="129.5" ry="20.2" fill="none" stroke="#0c0c0c" stroke-width="4.2"/>
<ellipse cx="0" cy="0" rx="106" ry="16.54" fill="none" stroke="#0c0c0c" stroke-width="4.2"/>
<ellipse cx="0" cy="0" rx="81" ry="12.64" fill="none" stroke="#0c0c0c" stroke-width="4.2"/>
</g>
<path d="M546.52,752.46 L636.01,771.39 M543.37,752.77 L627.89,772.2 M539.98,753.02 L619.12,772.85 M536.36,753.22 L609.75,773.36 M532.51,753.36 L599.83,773.71 M528.47,753.43 L589.39,773.91 M524.26,753.45 L578.49,773.95 M519.88,753.4 L567.18,773.84 M515.36,753.3 L555.51,773.57 M510.72,753.14 L543.53,773.14 M505.99,752.91 L531.3,772.57 M501.18,752.63 L518.88,771.84 M496.32,752.29 L506.33,770.97 M491.43,751.9 L493.7,769.96 M486.53,751.46 L481.05,768.8 M481.65,750.96 L468.44,767.52 M476.81,750.41 L455.94,766.11 M472.03,749.82 L443.59,764.58 M467.34,749.19 L431.46,762.94 M462.75,748.51 L419.6,761.2 M458.29,747.8 L408.07,759.36 M453.97,747.05 L396.92,757.43 M449.82,746.27 L386.21,755.42 M445.86,745.47 L375.98,753.34 M442.11,744.64 L366.28,751.2 M438.58,743.8 L357.16,749.01 M435.29,742.93 L348.66,746.79 M432.25,742.06 L340.82,744.53 M433.48,728.54 L343.99,709.61 M436.63,728.23 L352.11,708.8 M440.02,727.98 L360.88,708.15 M443.64,727.78 L370.25,707.64 M447.49,727.64 L380.17,707.29 M451.53,727.57 L390.61,707.09 M455.74,727.55 L401.51,707.05 M460.12,727.6 L412.82,707.16 M464.64,727.7 L424.49,707.43 M469.28,727.86 L436.47,707.86 M474.01,728.09 L448.7,708.43 M478.82,728.37 L461.12,709.16 M483.68,728.71 L473.67,710.03 M488.57,729.1 L486.3,711.04 M493.47,729.54 L498.95,712.2 M498.35,730.04 L511.56,713.48 M503.19,730.59 L524.06,714.89 M507.97,731.18 L536.41,716.42 M512.66,731.81 L548.54,718.06 M517.25,732.49 L560.4,719.8 M521.71,733.2 L571.93,721.64 M526.03,733.95 L583.08,723.57 M530.18,734.73 L593.79,725.58 M534.14,735.53 L604.02,727.66 M537.89,736.36 L613.72,729.8 M541.42,737.2 L622.84,731.99 M544.71,738.07 L631.34,734.21 M547.75,738.94 L639.18,736.47" stroke="#fff" stroke-width="1.6" stroke-dasharray="2.2 1.7" fill="none"/>
<g transform="translate(490 740.5) rotate(5.2)">
<ellipse cx="0" cy="0" rx="166.5" ry="25.97" fill="none" stroke="#fff" stroke-width="0.7"/>
<ellipse cx="0" cy="0" rx="141.7" ry="22.11" fill="none" stroke="#fff" stroke-width="0.7"/>
<ellipse cx="0" cy="0" rx="117.7" ry="18.36" fill="none" stroke="#fff" stroke-width="0.7"/>
<ellipse cx="0" cy="0" rx="93.5" ry="14.59" fill="none" stroke="#fff" stroke-width="0.7"/>
<ellipse cx="-2" cy="-0.5" rx="58" ry="9.3" fill="#fff" stroke="#111" stroke-width="3"/>
<rect x="-7" y="-1.5" width="16" height="2.6" rx="1" fill="#555"/>
</g>
<g transform="translate(481.5 815) rotate(5.5)">
<ellipse cx="0" cy="0" rx="226" ry="32.5" fill="#fff" stroke="#222" stroke-width="1.5"/>
<ellipse cx="0.5" cy="1.2" rx="222" ry="29.6" fill="none" stroke="#333" stroke-width="1.1"/>
<ellipse cx="1" cy="2.6" rx="216.5" ry="28.6" fill="none" stroke="#161616" stroke-width="2.8" stroke-dasharray="40 7 12 6 55 8 16 7 30 9 20 6" stroke-dashoffset="10"/>
</g>
<rect x="667" y="1081" width="9.5" height="69" rx="2" stroke="#1a1a1a" stroke-width="1.3" fill="#fff"/>
<rect x="661" y="1150" width="22" height="21" stroke="#1a1a1a" stroke-width="1.3" fill="#fff"/>
<path d="M672,1150 L672,1171" stroke="#1a1a1a" stroke-width="1.1"/>
<rect x="660" y="1171" width="24" height="6" stroke="#1a1a1a" stroke-width="1.3" fill="#fff"/>
<circle cx="706.8" cy="1134" r="22.3" fill="none" stroke="#333" stroke-width="1.3"/>
<ellipse cx="706.8" cy="1135.5" rx="13.3" ry="14.5" fill="none" stroke="#111" stroke-width="1.5"/>
<rect x="695.5" y="1150" width="23" height="10" stroke="#1a1a1a" stroke-width="1.3" fill="#fff"/>
<rect x="690.5" y="1160.5" width="33.5" height="15" stroke="#1a1a1a" stroke-width="1.3" fill="#fff"/>
<path d="M696,1160 L718,1160" stroke="#111" stroke-width="2"/>
<path d="M657,1184 Q660,1178 672,1176 L690,1176 Q694,1177 695,1183 M703,1183 Q705,1176 710,1176 L730,1178 Q740,1180 745,1184" stroke="#1a1a1a" stroke-width="1.3" fill="none"/>
<rect x="672" y="1181" width="42" height="3" fill="#585858"/>
<path d="M633.5,1240 L633.5,1193 Q633.5,1184.5 641,1184.5 L777,1184.5 Q784,1184.5 784,1193 L784,1240 Z" fill="#fff" stroke="#1a1a1a" stroke-width="1.4"/>
<path d="M781,1190 L781,1238" stroke="#1a1a1a" stroke-width="1.6"/>
<path d="M654,1188 L654,1239 M647,1190 L647,1236 M685,1188 L685,1214 M690,1188 L690,1214 M698,1188 L698,1214 M703,1188 L703,1214 M737,1188 L739,1237 M753,1188 L752,1237 M640,1190 L784,1190" stroke="#1a1a1a" stroke-width="1.1" fill="none"/>
<path d="M651,1240 L651,1222 Q651,1215.5 659.5,1215.5 Q668,1215.5 668,1222 L668,1240" fill="#fff" stroke="#1a1a1a" stroke-width="1.4"/>
<path d="M680,1240 L681,1219 Q682,1214.5 690,1214.5 L700,1214.5 Q704,1215 704,1219 L705,1240" fill="#fff" stroke="#1a1a1a" stroke-width="1.4"/>
<rect x="645" y="1230" width="6" height="7" fill="none" stroke="#1a1a1a" stroke-width="1"/>
<rect x="741" y="1230" width="10" height="7" fill="none" stroke="#1a1a1a" stroke-width="1"/>
<rect x="628" y="1239.5" width="158" height="6" rx="1.5" fill="#fff" stroke="#1a1a1a" stroke-width="1.4"/>
<rect x="643" y="1245.5" width="15.5" height="30" fill="#fff" stroke="#1a1a1a" stroke-width="1.2"/>
<rect x="666" y="1245.5" width="14" height="30" fill="#fff" stroke="#1a1a1a" stroke-width="1.2"/>
<rect x="733" y="1245.5" width="10.5" height="30" fill="#fff" stroke="#1a1a1a" stroke-width="1.2"/>
<rect x="752" y="1245.5" width="17.5" height="30" fill="#fff" stroke="#1a1a1a" stroke-width="1.2"/>
<path d="M647,1246 L647,1275 M650,1246 L650,1275 M757,1246 L757,1275 M762,1246 L762,1275" stroke="#1a1a1a" stroke-width="1" />
<path d="M525.5,1317.5 C565,1313 605,1279 643.5,1274.7 L756,1274 C800,1277 845,1305 891,1317.5 Z" fill="#fff" stroke="#1a1a1a" stroke-width="1.4"/>
<clipPath id="dimclip"><path d="M525.5,1317.5 C565,1313 605,1279 643.5,1274.7 L756,1274 C800,1277 845,1305 891,1317.5 Z"/></clipPath>
<g clip-path="url(#dimclip)"><path d="M536,1306 C586.48,1306 586.48,1276.98 636.96,1276.98 M540,1306 C590.48,1306 590.48,1276.98 640.96,1276.98 M553,1306 C598.04,1306 598.04,1275.9 643.08,1275.9 M557,1306 C602.04,1306 602.04,1275.9 647.08,1275.9 M570,1306 C609.6,1306 609.6,1275.7 649.2,1275.7 M574,1306 C613.6,1306 613.6,1275.7 653.2,1275.7 M587,1306 C621.16,1306 621.16,1275.7 655.32,1275.7 M591,1306 C625.16,1306 625.16,1275.7 659.32,1275.7 M604,1306 C632.72,1306 632.72,1275.7 661.44,1275.7 M608,1306 C636.72,1306 636.72,1275.7 665.44,1275.7 M621,1306 C644.28,1306 644.28,1275.7 667.56,1275.7 M625,1306 C648.28,1306 648.28,1275.7 671.56,1275.7 M638,1306 C655.84,1306 655.84,1275.7 673.68,1275.7 M642,1306 C659.84,1306 659.84,1275.7 677.68,1275.7 M655,1306 C667.4,1306 667.4,1275.7 679.8,1275.7 M659,1306 C671.4,1306 671.4,1275.7 683.8,1275.7 M671,1306 C678.28,1306 678.28,1275.7 685.56,1275.7 M675,1306 C682.28,1306 682.28,1275.7 689.56,1275.7 M720.3,1275.7 C727.65,1275.7 727.65,1306 735,1306 M716.3,1275.7 C723.65,1275.7 723.65,1306 731,1306 M730.16,1275.7 C741.08,1275.7 741.08,1306 752,1306 M726.16,1275.7 C737.08,1275.7 737.08,1306 748,1306 M740.6,1275.7 C755.3,1275.7 755.3,1306 770,1306 M736.6,1275.7 C751.3,1275.7 751.3,1306 766,1306 M751.04,1275.7 C769.52,1275.7 769.52,1306 788,1306 M747.04,1275.7 C765.52,1275.7 765.52,1306 784,1306 M761.48,1275.68 C783.74,1275.68 783.74,1306 806,1306 M757.48,1275.68 C779.74,1275.68 779.74,1306 802,1306 M771.92,1277.29 C797.96,1277.29 797.96,1306 824,1306 M767.92,1277.29 C793.96,1277.29 793.96,1306 820,1306 M782.36,1279.68 C812.18,1279.68 812.18,1306 842,1306 M778.36,1279.68 C808.18,1279.68 808.18,1306 838,1306 M792.8,1282.71 C826.4,1282.71 826.4,1306 860,1306 M788.8,1282.71 C822.4,1282.71 822.4,1306 856,1306 M802.66,1285.8 C839.83,1285.8 839.83,1306 877,1306 M798.66,1285.8 C835.83,1285.8 835.83,1306 873,1306" stroke="#222" stroke-width="1.1" fill="none"/>
<path d="M690,1275 L690,1310 M694,1275 L697,1306 M699,1280 L702,1300 L704,1280 M708,1276 L708,1308 M713,1276 L713,1308 M718,1276 L719,1306 M723,1275 L721,1310" stroke="#222" stroke-width="1.1" fill="none"/>
<g fill="#fff" stroke="#222" stroke-width="1"><ellipse cx="530" cy="1312.5" rx="8.5" ry="4"/><ellipse cx="538" cy="1307.5" rx="7" ry="3"/><ellipse cx="546.5" cy="1312.5" rx="8.5" ry="4"/><ellipse cx="554.5" cy="1307.5" rx="7" ry="3"/><ellipse cx="563" cy="1312.5" rx="8.5" ry="4"/><ellipse cx="571" cy="1307.5" rx="7" ry="3"/><ellipse cx="579.5" cy="1312.5" rx="8.5" ry="4"/><ellipse cx="587.5" cy="1307.5" rx="7" ry="3"/><ellipse cx="596" cy="1312.5" rx="8.5" ry="4"/><ellipse cx="604" cy="1307.5" rx="7" ry="3"/><ellipse cx="612.5" cy="1312.5" rx="8.5" ry="4"/><ellipse cx="620.5" cy="1307.5" rx="7" ry="3"/><ellipse cx="629" cy="1312.5" rx="8.5" ry="4"/><ellipse cx="637" cy="1307.5" rx="7" ry="3"/><ellipse cx="645.5" cy="1312.5" rx="8.5" ry="4"/><ellipse cx="653.5" cy="1307.5" rx="7" ry="3"/><ellipse cx="662" cy="1312.5" rx="8.5" ry="4"/><ellipse cx="670" cy="1307.5" rx="7" ry="3"/><ellipse cx="678.5" cy="1312.5" rx="8.5" ry="4"/><ellipse cx="686.5" cy="1307.5" rx="7" ry="3"/><ellipse cx="695" cy="1312.5" rx="8.5" ry="4"/><ellipse cx="703" cy="1307.5" rx="7" ry="3"/><ellipse cx="711.5" cy="1312.5" rx="8.5" ry="4"/><ellipse cx="719.5" cy="1307.5" rx="7" ry="3"/><ellipse cx="728" cy="1312.5" rx="8.5" ry="4"/><ellipse cx="736" cy="1307.5" rx="7" ry="3"/><ellipse cx="744.5" cy="1312.5" rx="8.5" ry="4"/><ellipse cx="752.5" cy="1307.5" rx="7" ry="3"/><ellipse cx="761" cy="1312.5" rx="8.5" ry="4"/><ellipse cx="769" cy="1307.5" rx="7" ry="3"/><ellipse cx="777.5" cy="1312.5" rx="8.5" ry="4"/><ellipse cx="785.5" cy="1307.5" rx="7" ry="3"/><ellipse cx="794" cy="1312.5" rx="8.5" ry="4"/><ellipse cx="802" cy="1307.5" rx="7" ry="3"/><ellipse cx="810.5" cy="1312.5" rx="8.5" ry="4"/><ellipse cx="818.5" cy="1307.5" rx="7" ry="3"/><ellipse cx="827" cy="1312.5" rx="8.5" ry="4"/><ellipse cx="835" cy="1307.5" rx="7" ry="3"/><ellipse cx="843.5" cy="1312.5" rx="8.5" ry="4"/><ellipse cx="851.5" cy="1307.5" rx="7" ry="3"/><ellipse cx="860" cy="1312.5" rx="8.5" ry="4"/><ellipse cx="868" cy="1307.5" rx="7" ry="3"/><ellipse cx="876.5" cy="1312.5" rx="8.5" ry="4"/><ellipse cx="884.5" cy="1307.5" rx="7" ry="3"/></g>
</g>
<path d="M525.5,1317.5 C565,1313 605,1279 643.5,1274.7 L756,1274 C800,1277 845,1305 891,1317.5 Z" fill="none" stroke="#1a1a1a" stroke-width="1.4"/>
<rect x="595.7" y="1281" width="12.2" height="15" fill="#fff" stroke="#1a1a1a" stroke-width="1.2"/>
<rect x="806" y="1281.3" width="12" height="13" fill="#fff" stroke="#1a1a1a" stroke-width="1.2"/>
<rect x="524.5" y="1317.3" width="367.5" height="21" rx="1.5" fill="#fff" stroke="#1a1a1a" stroke-width="1.4"/>
<path d="M525,1320.5 L891.5,1320.5" stroke="#1a1a1a" stroke-width="1"/>
<rect x="525" y="1335.5" width="367" height="3.2" fill="#777"/>
<path d="M711.5,1112 L972.5,1112 M727,1161.7 L930.5,1161.7 M892.5,1339.3 L973,1339.3 M524,1343 L524,1417.5 M889.8,1343 L889.8,1417.5" stroke="#222" stroke-width="1.2" fill="none"/>
<path d="M925.2,1162 L925.2,1209.5 M925.2,1292.5 L925.2,1339 M967.1,1112 L967.1,1183.8 M967.1,1267.6 L967.1,1339 M524,1411.8 L671.8,1411.8 M742.2,1411.8 L889.8,1411.8" stroke="#222" stroke-width="1.2" fill="none"/>
<path d="M925.2,1162 L927,1170 L923.4,1170 Z M925.2,1339 L923.4,1331 L927,1331 Z M967.1,1112 L968.9,1120 L965.3,1120 Z M967.1,1339 L965.3,1331 L968.9,1331 Z M524,1411.8 L532,1410 L532,1413.6 Z M889.8,1411.8 L881.8,1413.6 L881.8,1410 Z" fill="#111"/>
<text x="676" y="1418" font-family='"Liberation Sans", sans-serif' font-size="17.5" fill="#111" stroke="#fff" stroke-width="0.3" textLength="62" lengthAdjust="spacingAndGlyphs" font-weight="normal" style="white-space:pre">ø350  MM</text>
<text transform="translate(931.3 1286.3) rotate(-90)" font-family='"Liberation Sans", sans-serif' font-size="16.5" fill="#111" stroke="#fff" stroke-width="0.3" textLength="72" lengthAdjust="spacingAndGlyphs" font-weight="normal" style="white-space:pre">152.4  MM</text>
<text transform="translate(973 1261) rotate(-90)" font-family='"Liberation Sans", sans-serif' font-size="16.5" fill="#111" stroke="#fff" stroke-width="0.3" textLength="72" lengthAdjust="spacingAndGlyphs" font-weight="normal" style="white-space:pre">194.9  MM</text>
<line x1="588.5" y1="192" x2="685.5" y2="179.5" stroke="#555" stroke-width="1.8"/>
<line x1="265" y1="293.8" x2="407.5" y2="366" stroke="#555" stroke-width="1.8"/>
<line x1="260.5" y1="431" x2="486" y2="500.8" stroke="#555" stroke-width="1.8"/>
<line x1="626.8" y1="505" x2="760" y2="422" stroke="#555" stroke-width="1.8"/>
<line x1="673" y1="583" x2="780" y2="524.5" stroke="#555" stroke-width="1.8"/>
<line x1="689" y1="761.5" x2="785" y2="795.2" stroke="#555" stroke-width="1.8"/>
<line x1="482.8" y1="834.3" x2="631" y2="926" stroke="#555" stroke-width="1.8"/>
</svg>
</body></html>
